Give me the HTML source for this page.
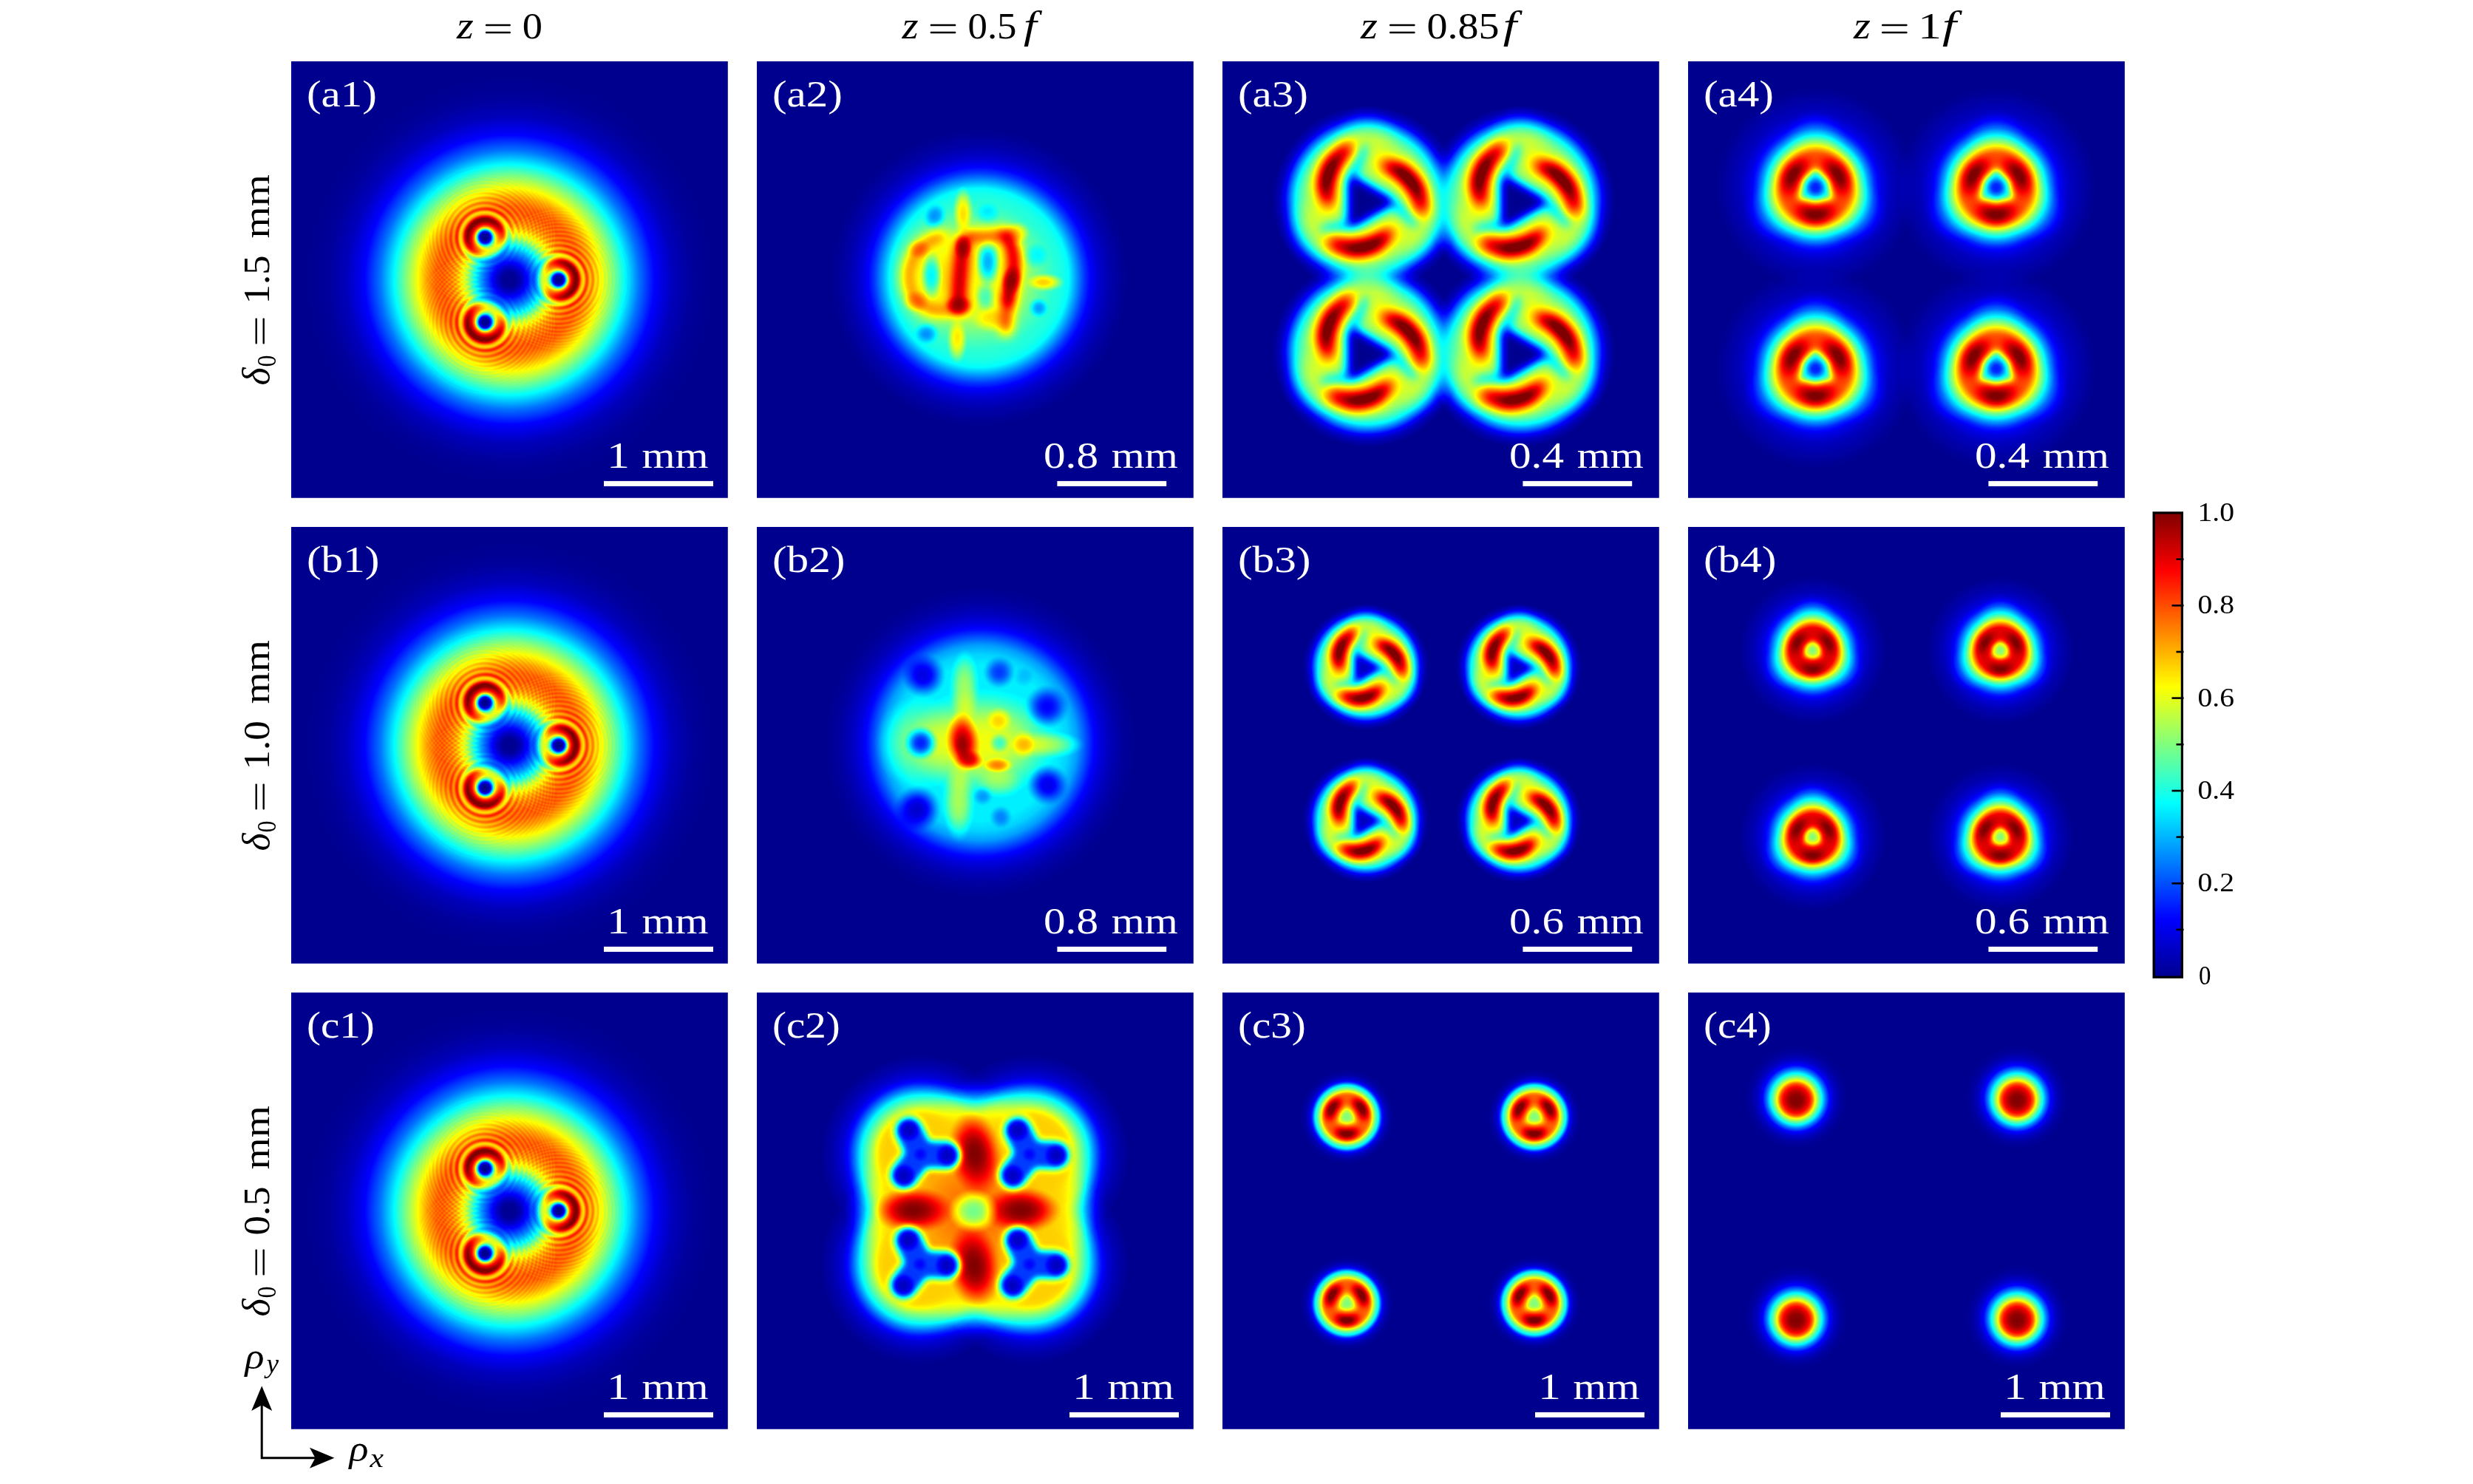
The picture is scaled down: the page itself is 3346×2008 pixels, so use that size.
<!DOCTYPE html><html><head><meta charset="utf-8"><style>html,body{margin:0;padding:0;background:#fff}svg{display:block}text{font-family:"Liberation Serif",serif}</style></head><body>
<svg width="3346" height="2008" viewBox="0 0 3346 2008">
<defs><filter id="jet" filterUnits="userSpaceOnUse" x="0" y="0" width="591" height="591" color-interpolation-filters="sRGB">
<feComponentTransfer>
<feFuncR type="table" tableValues="0 0 0 0 0.5 1 1 1 0.5"/>
<feFuncG type="table" tableValues="0 0 0.5 1 1 1 0.5 0 0"/>
<feFuncB type="table" tableValues="0.56 1 1 1 0.5 0 0 0 0"/>
</feComponentTransfer></filter>
<filter id="P2" filterUnits="userSpaceOnUse" x="-40" y="-40" width="680" height="680" color-interpolation-filters="sRGB"><feGaussianBlur stdDeviation="2"/></filter>
<filter id="U2" filterUnits="userSpaceOnUse" x="-170" y="-170" width="340" height="340" color-interpolation-filters="sRGB"><feGaussianBlur stdDeviation="2"/></filter>
<filter id="P3" filterUnits="userSpaceOnUse" x="-40" y="-40" width="680" height="680" color-interpolation-filters="sRGB"><feGaussianBlur stdDeviation="3"/></filter>
<filter id="U3" filterUnits="userSpaceOnUse" x="-170" y="-170" width="340" height="340" color-interpolation-filters="sRGB"><feGaussianBlur stdDeviation="3"/></filter>
<filter id="P4" filterUnits="userSpaceOnUse" x="-40" y="-40" width="680" height="680" color-interpolation-filters="sRGB"><feGaussianBlur stdDeviation="4"/></filter>
<filter id="U4" filterUnits="userSpaceOnUse" x="-170" y="-170" width="340" height="340" color-interpolation-filters="sRGB"><feGaussianBlur stdDeviation="4"/></filter>
<filter id="P5" filterUnits="userSpaceOnUse" x="-40" y="-40" width="680" height="680" color-interpolation-filters="sRGB"><feGaussianBlur stdDeviation="5"/></filter>
<filter id="U5" filterUnits="userSpaceOnUse" x="-170" y="-170" width="340" height="340" color-interpolation-filters="sRGB"><feGaussianBlur stdDeviation="5"/></filter>
<filter id="P6" filterUnits="userSpaceOnUse" x="-40" y="-40" width="680" height="680" color-interpolation-filters="sRGB"><feGaussianBlur stdDeviation="6"/></filter>
<filter id="U6" filterUnits="userSpaceOnUse" x="-170" y="-170" width="340" height="340" color-interpolation-filters="sRGB"><feGaussianBlur stdDeviation="6"/></filter>
<filter id="P7" filterUnits="userSpaceOnUse" x="-40" y="-40" width="680" height="680" color-interpolation-filters="sRGB"><feGaussianBlur stdDeviation="7"/></filter>
<filter id="U7" filterUnits="userSpaceOnUse" x="-170" y="-170" width="340" height="340" color-interpolation-filters="sRGB"><feGaussianBlur stdDeviation="7"/></filter>
<filter id="P8" filterUnits="userSpaceOnUse" x="-40" y="-40" width="680" height="680" color-interpolation-filters="sRGB"><feGaussianBlur stdDeviation="8"/></filter>
<filter id="U8" filterUnits="userSpaceOnUse" x="-170" y="-170" width="340" height="340" color-interpolation-filters="sRGB"><feGaussianBlur stdDeviation="8"/></filter>
<filter id="P10" filterUnits="userSpaceOnUse" x="-40" y="-40" width="680" height="680" color-interpolation-filters="sRGB"><feGaussianBlur stdDeviation="10"/></filter>
<filter id="U10" filterUnits="userSpaceOnUse" x="-170" y="-170" width="340" height="340" color-interpolation-filters="sRGB"><feGaussianBlur stdDeviation="10"/></filter>
<filter id="P12" filterUnits="userSpaceOnUse" x="-40" y="-40" width="680" height="680" color-interpolation-filters="sRGB"><feGaussianBlur stdDeviation="12"/></filter>
<filter id="U12" filterUnits="userSpaceOnUse" x="-170" y="-170" width="340" height="340" color-interpolation-filters="sRGB"><feGaussianBlur stdDeviation="12"/></filter>
<filter id="P14" filterUnits="userSpaceOnUse" x="-40" y="-40" width="680" height="680" color-interpolation-filters="sRGB"><feGaussianBlur stdDeviation="14"/></filter>
<filter id="U14" filterUnits="userSpaceOnUse" x="-170" y="-170" width="340" height="340" color-interpolation-filters="sRGB"><feGaussianBlur stdDeviation="14"/></filter>
<filter id="P16" filterUnits="userSpaceOnUse" x="-40" y="-40" width="680" height="680" color-interpolation-filters="sRGB"><feGaussianBlur stdDeviation="16"/></filter>
<filter id="U16" filterUnits="userSpaceOnUse" x="-170" y="-170" width="340" height="340" color-interpolation-filters="sRGB"><feGaussianBlur stdDeviation="16"/></filter>
<filter id="P20" filterUnits="userSpaceOnUse" x="-40" y="-40" width="680" height="680" color-interpolation-filters="sRGB"><feGaussianBlur stdDeviation="20"/></filter>
<filter id="U20" filterUnits="userSpaceOnUse" x="-170" y="-170" width="340" height="340" color-interpolation-filters="sRGB"><feGaussianBlur stdDeviation="20"/></filter>
<filter id="G4" filterUnits="userSpaceOnUse" x="-170" y="-170" width="340" height="340" color-interpolation-filters="sRGB"><feGaussianBlur stdDeviation="4"/><feComponentTransfer><feFuncA type="linear" slope="2"/></feComponentTransfer></filter>
<filter id="PG4" filterUnits="userSpaceOnUse" x="-40" y="-40" width="680" height="680" color-interpolation-filters="sRGB"><feGaussianBlur stdDeviation="4"/><feComponentTransfer><feFuncA type="linear" slope="2"/></feComponentTransfer></filter>
<filter id="G5" filterUnits="userSpaceOnUse" x="-170" y="-170" width="340" height="340" color-interpolation-filters="sRGB"><feGaussianBlur stdDeviation="5"/><feComponentTransfer><feFuncA type="linear" slope="2"/></feComponentTransfer></filter>
<filter id="PG5" filterUnits="userSpaceOnUse" x="-40" y="-40" width="680" height="680" color-interpolation-filters="sRGB"><feGaussianBlur stdDeviation="5"/><feComponentTransfer><feFuncA type="linear" slope="2"/></feComponentTransfer></filter>
<filter id="G6" filterUnits="userSpaceOnUse" x="-170" y="-170" width="340" height="340" color-interpolation-filters="sRGB"><feGaussianBlur stdDeviation="6"/><feComponentTransfer><feFuncA type="linear" slope="2"/></feComponentTransfer></filter>
<filter id="PG6" filterUnits="userSpaceOnUse" x="-40" y="-40" width="680" height="680" color-interpolation-filters="sRGB"><feGaussianBlur stdDeviation="6"/><feComponentTransfer><feFuncA type="linear" slope="2"/></feComponentTransfer></filter>
<filter id="G7" filterUnits="userSpaceOnUse" x="-170" y="-170" width="340" height="340" color-interpolation-filters="sRGB"><feGaussianBlur stdDeviation="7"/><feComponentTransfer><feFuncA type="linear" slope="2"/></feComponentTransfer></filter>
<filter id="PG7" filterUnits="userSpaceOnUse" x="-40" y="-40" width="680" height="680" color-interpolation-filters="sRGB"><feGaussianBlur stdDeviation="7"/><feComponentTransfer><feFuncA type="linear" slope="2"/></feComponentTransfer></filter>
<filter id="G8" filterUnits="userSpaceOnUse" x="-170" y="-170" width="340" height="340" color-interpolation-filters="sRGB"><feGaussianBlur stdDeviation="8"/><feComponentTransfer><feFuncA type="linear" slope="2"/></feComponentTransfer></filter>
<filter id="PG8" filterUnits="userSpaceOnUse" x="-40" y="-40" width="680" height="680" color-interpolation-filters="sRGB"><feGaussianBlur stdDeviation="8"/><feComponentTransfer><feFuncA type="linear" slope="2"/></feComponentTransfer></filter>
<filter id="G9" filterUnits="userSpaceOnUse" x="-170" y="-170" width="340" height="340" color-interpolation-filters="sRGB"><feGaussianBlur stdDeviation="9"/><feComponentTransfer><feFuncA type="linear" slope="2"/></feComponentTransfer></filter>
<filter id="PG9" filterUnits="userSpaceOnUse" x="-40" y="-40" width="680" height="680" color-interpolation-filters="sRGB"><feGaussianBlur stdDeviation="9"/><feComponentTransfer><feFuncA type="linear" slope="2"/></feComponentTransfer></filter>
<filter id="G10" filterUnits="userSpaceOnUse" x="-170" y="-170" width="340" height="340" color-interpolation-filters="sRGB"><feGaussianBlur stdDeviation="10"/><feComponentTransfer><feFuncA type="linear" slope="2"/></feComponentTransfer></filter>
<filter id="PG10" filterUnits="userSpaceOnUse" x="-40" y="-40" width="680" height="680" color-interpolation-filters="sRGB"><feGaussianBlur stdDeviation="10"/><feComponentTransfer><feFuncA type="linear" slope="2"/></feComponentTransfer></filter>
<filter id="G12" filterUnits="userSpaceOnUse" x="-170" y="-170" width="340" height="340" color-interpolation-filters="sRGB"><feGaussianBlur stdDeviation="12"/><feComponentTransfer><feFuncA type="linear" slope="2"/></feComponentTransfer></filter>
<filter id="PG12" filterUnits="userSpaceOnUse" x="-40" y="-40" width="680" height="680" color-interpolation-filters="sRGB"><feGaussianBlur stdDeviation="12"/><feComponentTransfer><feFuncA type="linear" slope="2"/></feComponentTransfer></filter>
<radialGradient id="gb" ><stop offset="0.0000" stop-color="#fff" stop-opacity="1.000"/><stop offset="0.1800" stop-color="#fff" stop-opacity="0.970"/><stop offset="0.3500" stop-color="#fff" stop-opacity="0.860"/><stop offset="0.5000" stop-color="#fff" stop-opacity="0.680"/><stop offset="0.6500" stop-color="#fff" stop-opacity="0.450"/><stop offset="0.8000" stop-color="#fff" stop-opacity="0.220"/><stop offset="0.9000" stop-color="#fff" stop-opacity="0.090"/><stop offset="1.0000" stop-color="#fff" stop-opacity="0.000"/></radialGradient>
<radialGradient id="gk" ><stop offset="0.0000" stop-color="#000" stop-opacity="1.000"/><stop offset="0.1800" stop-color="#000" stop-opacity="0.970"/><stop offset="0.3500" stop-color="#000" stop-opacity="0.860"/><stop offset="0.5000" stop-color="#000" stop-opacity="0.680"/><stop offset="0.6500" stop-color="#000" stop-opacity="0.450"/><stop offset="0.8000" stop-color="#000" stop-opacity="0.220"/><stop offset="0.9000" stop-color="#000" stop-opacity="0.090"/><stop offset="1.0000" stop-color="#000" stop-opacity="0.000"/></radialGradient>
<radialGradient id="env" ><stop offset="0.0000" stop-color="#000000"/><stop offset="0.0357" stop-color="#030303"/><stop offset="0.0464" stop-color="#080808"/><stop offset="0.0643" stop-color="#121212"/><stop offset="0.0843" stop-color="#202020"/><stop offset="0.1071" stop-color="#303030"/><stop offset="0.1314" stop-color="#424242"/><stop offset="0.1500" stop-color="#525252"/><stop offset="0.1679" stop-color="#626262"/><stop offset="0.1875" stop-color="#787878"/><stop offset="0.2071" stop-color="#8f8f8f"/><stop offset="0.2346" stop-color="#a4a4a4"/><stop offset="0.2571" stop-color="#b4b4b4"/><stop offset="0.2821" stop-color="#bfbfbf"/><stop offset="0.3214" stop-color="#c8c8c8"/><stop offset="0.3571" stop-color="#c6c6c6"/><stop offset="0.4000" stop-color="#b6b6b6"/><stop offset="0.4429" stop-color="#9f9f9f"/><stop offset="0.5000" stop-color="#808080"/><stop offset="0.5571" stop-color="#606060"/><stop offset="0.6250" stop-color="#3d3d3d"/><stop offset="0.7000" stop-color="#202020"/><stop offset="0.7857" stop-color="#0d0d0d"/><stop offset="0.8750" stop-color="#040404"/><stop offset="0.9821" stop-color="#000000"/></radialGradient>
<radialGradient id="vm" ><stop offset="0.0000" stop-color="#000000"/><stop offset="0.0033" stop-color="#000000"/><stop offset="0.0067" stop-color="#000000"/><stop offset="0.0100" stop-color="#000000"/><stop offset="0.0133" stop-color="#000000"/><stop offset="0.0167" stop-color="#000000"/><stop offset="0.0200" stop-color="#000000"/><stop offset="0.0233" stop-color="#000000"/><stop offset="0.0267" stop-color="#010101"/><stop offset="0.0300" stop-color="#010101"/><stop offset="0.0333" stop-color="#020202"/><stop offset="0.0367" stop-color="#030303"/><stop offset="0.0400" stop-color="#040404"/><stop offset="0.0433" stop-color="#050505"/><stop offset="0.0467" stop-color="#070707"/><stop offset="0.0500" stop-color="#0a0a0a"/><stop offset="0.0533" stop-color="#0c0c0c"/><stop offset="0.0567" stop-color="#101010"/><stop offset="0.0600" stop-color="#131313"/><stop offset="0.0633" stop-color="#181818"/><stop offset="0.0667" stop-color="#1d1d1d"/><stop offset="0.0700" stop-color="#232323"/><stop offset="0.0733" stop-color="#292929"/><stop offset="0.0767" stop-color="#313131"/><stop offset="0.0800" stop-color="#393939"/><stop offset="0.0833" stop-color="#414141"/><stop offset="0.0867" stop-color="#4b4b4b"/><stop offset="0.0900" stop-color="#545454"/><stop offset="0.0933" stop-color="#5f5f5f"/><stop offset="0.0967" stop-color="#6a6a6a"/><stop offset="0.1000" stop-color="#757575"/><stop offset="0.1033" stop-color="#808080"/><stop offset="0.1067" stop-color="#8c8c8c"/><stop offset="0.1100" stop-color="#979797"/><stop offset="0.1133" stop-color="#a2a2a2"/><stop offset="0.1167" stop-color="#adadad"/><stop offset="0.1200" stop-color="#b8b8b8"/><stop offset="0.1233" stop-color="#c1c1c1"/><stop offset="0.1267" stop-color="#cacaca"/><stop offset="0.1300" stop-color="#d3d3d3"/><stop offset="0.1333" stop-color="#dadada"/><stop offset="0.1367" stop-color="#e2e2e2"/><stop offset="0.1400" stop-color="#e8e8e8"/><stop offset="0.1433" stop-color="#efefef"/><stop offset="0.1467" stop-color="#f4f4f4"/><stop offset="0.1500" stop-color="#fafafa"/><stop offset="0.1533" stop-color="#ffffff"/><stop offset="0.1567" stop-color="#ffffff"/><stop offset="0.1600" stop-color="#ffffff"/><stop offset="0.1633" stop-color="#ffffff"/><stop offset="0.1667" stop-color="#ffffff"/><stop offset="0.1700" stop-color="#ffffff"/><stop offset="0.1733" stop-color="#ffffff"/><stop offset="0.1767" stop-color="#ffffff"/><stop offset="0.1800" stop-color="#ffffff"/><stop offset="0.1833" stop-color="#ffffff"/><stop offset="0.1867" stop-color="#ffffff"/><stop offset="0.1900" stop-color="#ffffff"/><stop offset="0.1933" stop-color="#ffffff"/><stop offset="0.1967" stop-color="#ffffff"/><stop offset="0.2000" stop-color="#ffffff"/><stop offset="0.2033" stop-color="#ffffff"/><stop offset="0.2067" stop-color="#ffffff"/><stop offset="0.2100" stop-color="#ffffff"/><stop offset="0.2133" stop-color="#ffffff"/><stop offset="0.2167" stop-color="#ffffff"/><stop offset="0.2200" stop-color="#ffffff"/><stop offset="0.2233" stop-color="#ffffff"/><stop offset="0.2267" stop-color="#ffffff"/><stop offset="0.2300" stop-color="#ffffff"/><stop offset="0.2333" stop-color="#ffffff"/><stop offset="0.2367" stop-color="#ffffff"/><stop offset="0.2400" stop-color="#ffffff"/><stop offset="0.2433" stop-color="#ffffff"/><stop offset="0.2467" stop-color="#ffffff"/><stop offset="0.2500" stop-color="#ffffff"/><stop offset="0.2533" stop-color="#ffffff"/><stop offset="0.2567" stop-color="#ffffff"/><stop offset="0.2600" stop-color="#ffffff"/><stop offset="0.2633" stop-color="#ffffff"/><stop offset="0.2667" stop-color="#ffffff"/><stop offset="0.2700" stop-color="#ffffff"/><stop offset="0.2733" stop-color="#ffffff"/><stop offset="0.2767" stop-color="#ffffff"/><stop offset="0.2800" stop-color="#ffffff"/><stop offset="0.2833" stop-color="#ffffff"/><stop offset="0.2867" stop-color="#ffffff"/><stop offset="0.2900" stop-color="#ffffff"/><stop offset="0.2933" stop-color="#ffffff"/><stop offset="0.2967" stop-color="#fdfdfd"/><stop offset="0.3000" stop-color="#f7f7f7"/><stop offset="0.3033" stop-color="#f1f1f1"/><stop offset="0.3067" stop-color="#ececec"/><stop offset="0.3100" stop-color="#e7e7e7"/><stop offset="0.3133" stop-color="#e3e3e3"/><stop offset="0.3167" stop-color="#dfdfdf"/><stop offset="0.3200" stop-color="#dcdcdc"/><stop offset="0.3233" stop-color="#dadada"/><stop offset="0.3267" stop-color="#d8d8d8"/><stop offset="0.3300" stop-color="#d7d7d7"/><stop offset="0.3333" stop-color="#d6d6d6"/><stop offset="0.3367" stop-color="#d7d7d7"/><stop offset="0.3400" stop-color="#d8d8d8"/><stop offset="0.3433" stop-color="#dcdcdc"/><stop offset="0.3467" stop-color="#e0e0e0"/><stop offset="0.3500" stop-color="#e5e5e5"/><stop offset="0.3533" stop-color="#ebebeb"/><stop offset="0.3567" stop-color="#f2f2f2"/><stop offset="0.3600" stop-color="#f8f8f8"/><stop offset="0.3633" stop-color="#ffffff"/><stop offset="0.3667" stop-color="#ffffff"/><stop offset="0.3700" stop-color="#ffffff"/><stop offset="0.3733" stop-color="#ffffff"/><stop offset="0.3767" stop-color="#ffffff"/><stop offset="0.3800" stop-color="#ffffff"/><stop offset="0.3833" stop-color="#ffffff"/><stop offset="0.3867" stop-color="#ffffff"/><stop offset="0.3900" stop-color="#ffffff"/><stop offset="0.3933" stop-color="#ffffff"/><stop offset="0.3967" stop-color="#ffffff"/><stop offset="0.4000" stop-color="#ffffff"/><stop offset="0.4033" stop-color="#ffffff"/><stop offset="0.4067" stop-color="#ffffff"/><stop offset="0.4100" stop-color="#fbfbfb"/><stop offset="0.4133" stop-color="#f7f7f7"/><stop offset="0.4167" stop-color="#f4f4f4"/><stop offset="0.4200" stop-color="#f1f1f1"/><stop offset="0.4233" stop-color="#f0f0f0"/><stop offset="0.4267" stop-color="#f0f0f0"/><stop offset="0.4300" stop-color="#f0f0f0"/><stop offset="0.4333" stop-color="#f2f2f2"/><stop offset="0.4367" stop-color="#f5f5f5"/><stop offset="0.4400" stop-color="#f8f8f8"/><stop offset="0.4433" stop-color="#fcfcfc"/><stop offset="0.4467" stop-color="#ffffff"/><stop offset="0.4500" stop-color="#ffffff"/><stop offset="0.4533" stop-color="#ffffff"/><stop offset="0.4567" stop-color="#ffffff"/><stop offset="0.4600" stop-color="#ffffff"/><stop offset="0.4633" stop-color="#ffffff"/><stop offset="0.4667" stop-color="#ffffff"/><stop offset="0.4700" stop-color="#ffffff"/><stop offset="0.4733" stop-color="#ffffff"/><stop offset="0.4767" stop-color="#ffffff"/><stop offset="0.4800" stop-color="#ffffff"/><stop offset="0.4833" stop-color="#ffffff"/><stop offset="0.4867" stop-color="#fbfbfb"/><stop offset="0.4900" stop-color="#f8f8f8"/><stop offset="0.4933" stop-color="#f6f6f6"/><stop offset="0.4967" stop-color="#f4f4f4"/><stop offset="0.5000" stop-color="#f4f4f4"/><stop offset="0.5033" stop-color="#f4f4f4"/><stop offset="0.5067" stop-color="#f6f6f6"/><stop offset="0.5100" stop-color="#f8f8f8"/><stop offset="0.5133" stop-color="#fbfbfb"/><stop offset="0.5167" stop-color="#fefefe"/><stop offset="0.5200" stop-color="#ffffff"/><stop offset="0.5233" stop-color="#ffffff"/><stop offset="0.5267" stop-color="#ffffff"/><stop offset="0.5300" stop-color="#ffffff"/><stop offset="0.5333" stop-color="#ffffff"/><stop offset="0.5367" stop-color="#ffffff"/><stop offset="0.5400" stop-color="#ffffff"/><stop offset="0.5433" stop-color="#ffffff"/><stop offset="0.5467" stop-color="#ffffff"/><stop offset="0.5500" stop-color="#ffffff"/><stop offset="0.5533" stop-color="#fcfcfc"/><stop offset="0.5567" stop-color="#fafafa"/><stop offset="0.5600" stop-color="#f7f7f7"/><stop offset="0.5633" stop-color="#f6f6f6"/><stop offset="0.5667" stop-color="#f6f6f6"/><stop offset="0.5700" stop-color="#f7f7f7"/><stop offset="0.5733" stop-color="#f8f8f8"/><stop offset="0.5767" stop-color="#fbfbfb"/><stop offset="0.5800" stop-color="#fefefe"/><stop offset="0.5833" stop-color="#ffffff"/><stop offset="0.5867" stop-color="#ffffff"/><stop offset="0.5900" stop-color="#ffffff"/><stop offset="0.5933" stop-color="#ffffff"/><stop offset="0.5967" stop-color="#ffffff"/><stop offset="0.6000" stop-color="#ffffff"/><stop offset="0.6033" stop-color="#ffffff"/><stop offset="0.6067" stop-color="#ffffff"/><stop offset="0.6100" stop-color="#ffffff"/><stop offset="0.6133" stop-color="#fdfdfd"/><stop offset="0.6167" stop-color="#fafafa"/><stop offset="0.6200" stop-color="#f8f8f8"/><stop offset="0.6233" stop-color="#f7f7f7"/><stop offset="0.6267" stop-color="#f7f7f7"/><stop offset="0.6300" stop-color="#f9f9f9"/><stop offset="0.6333" stop-color="#fbfbfb"/><stop offset="0.6367" stop-color="#fdfdfd"/><stop offset="0.6400" stop-color="#ffffff"/><stop offset="0.6433" stop-color="#ffffff"/><stop offset="0.6467" stop-color="#ffffff"/><stop offset="0.6500" stop-color="#ffffff"/><stop offset="0.6533" stop-color="#ffffff"/><stop offset="0.6567" stop-color="#ffffff"/><stop offset="0.6600" stop-color="#ffffff"/><stop offset="0.6633" stop-color="#ffffff"/><stop offset="0.6667" stop-color="#fefefe"/><stop offset="0.6700" stop-color="#fbfbfb"/><stop offset="0.6733" stop-color="#f9f9f9"/><stop offset="0.6767" stop-color="#f8f8f8"/><stop offset="0.6800" stop-color="#f8f8f8"/><stop offset="0.6833" stop-color="#f9f9f9"/><stop offset="0.6867" stop-color="#fbfbfb"/><stop offset="0.6900" stop-color="#fefefe"/><stop offset="0.6933" stop-color="#ffffff"/><stop offset="0.6967" stop-color="#ffffff"/><stop offset="0.7000" stop-color="#ffffff"/><stop offset="0.7033" stop-color="#ffffff"/><stop offset="0.7067" stop-color="#ffffff"/><stop offset="0.7100" stop-color="#ffffff"/><stop offset="0.7133" stop-color="#ffffff"/><stop offset="0.7167" stop-color="#ffffff"/><stop offset="0.7200" stop-color="#fcfcfc"/><stop offset="0.7233" stop-color="#fafafa"/><stop offset="0.7267" stop-color="#f9f9f9"/><stop offset="0.7300" stop-color="#f9f9f9"/><stop offset="0.7333" stop-color="#fafafa"/><stop offset="0.7367" stop-color="#fcfcfc"/><stop offset="0.7400" stop-color="#ffffff"/><stop offset="0.7433" stop-color="#ffffff"/><stop offset="0.7467" stop-color="#ffffff"/><stop offset="0.7500" stop-color="#ffffff"/><stop offset="0.7533" stop-color="#ffffff"/><stop offset="0.7567" stop-color="#ffffff"/><stop offset="0.7600" stop-color="#ffffff"/><stop offset="0.7633" stop-color="#ffffff"/><stop offset="0.7667" stop-color="#fdfdfd"/><stop offset="0.7700" stop-color="#fbfbfb"/><stop offset="0.7733" stop-color="#fafafa"/><stop offset="0.7767" stop-color="#fafafa"/><stop offset="0.7800" stop-color="#fbfbfb"/><stop offset="0.7833" stop-color="#fdfdfd"/><stop offset="0.7867" stop-color="#ffffff"/><stop offset="0.7900" stop-color="#ffffff"/><stop offset="0.7933" stop-color="#ffffff"/><stop offset="0.7967" stop-color="#ffffff"/><stop offset="0.8000" stop-color="#ffffff"/><stop offset="0.8033" stop-color="#ffffff"/><stop offset="0.8067" stop-color="#ffffff"/><stop offset="0.8100" stop-color="#fefefe"/><stop offset="0.8133" stop-color="#fcfcfc"/><stop offset="0.8167" stop-color="#fbfbfb"/><stop offset="0.8200" stop-color="#fbfbfb"/><stop offset="0.8233" stop-color="#fcfcfc"/><stop offset="0.8267" stop-color="#fdfdfd"/><stop offset="0.8300" stop-color="#ffffff"/><stop offset="0.8333" stop-color="#ffffff"/><stop offset="0.8367" stop-color="#ffffff"/><stop offset="0.8400" stop-color="#ffffff"/><stop offset="0.8433" stop-color="#ffffff"/><stop offset="0.8467" stop-color="#ffffff"/><stop offset="0.8500" stop-color="#ffffff"/><stop offset="0.8533" stop-color="#fdfdfd"/><stop offset="0.8567" stop-color="#fcfcfc"/><stop offset="0.8600" stop-color="#fbfbfb"/><stop offset="0.8633" stop-color="#fcfcfc"/><stop offset="0.8667" stop-color="#fdfdfd"/><stop offset="0.8700" stop-color="#ffffff"/><stop offset="0.8733" stop-color="#ffffff"/><stop offset="0.8767" stop-color="#ffffff"/><stop offset="0.8800" stop-color="#ffffff"/><stop offset="0.8833" stop-color="#ffffff"/><stop offset="0.8867" stop-color="#ffffff"/><stop offset="0.8900" stop-color="#ffffff"/><stop offset="0.8933" stop-color="#fefefe"/><stop offset="0.8967" stop-color="#fcfcfc"/><stop offset="0.9000" stop-color="#fcfcfc"/><stop offset="0.9033" stop-color="#fcfcfc"/><stop offset="0.9067" stop-color="#fdfdfd"/><stop offset="0.9100" stop-color="#ffffff"/><stop offset="0.9133" stop-color="#ffffff"/><stop offset="0.9167" stop-color="#ffffff"/><stop offset="0.9200" stop-color="#ffffff"/><stop offset="0.9233" stop-color="#ffffff"/><stop offset="0.9267" stop-color="#ffffff"/><stop offset="0.9300" stop-color="#ffffff"/><stop offset="0.9333" stop-color="#fdfdfd"/><stop offset="0.9367" stop-color="#fcfcfc"/><stop offset="0.9400" stop-color="#fcfcfc"/><stop offset="0.9433" stop-color="#fdfdfd"/><stop offset="0.9467" stop-color="#ffffff"/><stop offset="0.9500" stop-color="#ffffff"/><stop offset="0.9533" stop-color="#ffffff"/><stop offset="0.9567" stop-color="#ffffff"/><stop offset="0.9600" stop-color="#ffffff"/><stop offset="0.9633" stop-color="#ffffff"/><stop offset="0.9667" stop-color="#ffffff"/><stop offset="0.9700" stop-color="#ffffff"/><stop offset="0.9733" stop-color="#ffffff"/><stop offset="0.9767" stop-color="#ffffff"/><stop offset="0.9800" stop-color="#ffffff"/><stop offset="0.9833" stop-color="#ffffff"/><stop offset="0.9867" stop-color="#ffffff"/><stop offset="0.9900" stop-color="#ffffff"/><stop offset="0.9933" stop-color="#ffffff"/><stop offset="0.9967" stop-color="#ffffff"/><stop offset="1.0000" stop-color="#ffffff"/></radialGradient>
<radialGradient id="vd" ><stop offset="0.0000" stop-color="#000000"/><stop offset="0.0033" stop-color="#000000"/><stop offset="0.0067" stop-color="#000000"/><stop offset="0.0100" stop-color="#000000"/><stop offset="0.0133" stop-color="#000000"/><stop offset="0.0167" stop-color="#000000"/><stop offset="0.0200" stop-color="#000000"/><stop offset="0.0233" stop-color="#000000"/><stop offset="0.0267" stop-color="#000000"/><stop offset="0.0300" stop-color="#000000"/><stop offset="0.0333" stop-color="#000000"/><stop offset="0.0367" stop-color="#000000"/><stop offset="0.0400" stop-color="#000000"/><stop offset="0.0433" stop-color="#000000"/><stop offset="0.0467" stop-color="#000000"/><stop offset="0.0500" stop-color="#000000"/><stop offset="0.0533" stop-color="#000000"/><stop offset="0.0567" stop-color="#000000"/><stop offset="0.0600" stop-color="#000000"/><stop offset="0.0633" stop-color="#000000"/><stop offset="0.0667" stop-color="#000000"/><stop offset="0.0700" stop-color="#000000"/><stop offset="0.0733" stop-color="#000000"/><stop offset="0.0767" stop-color="#000000"/><stop offset="0.0800" stop-color="#000000"/><stop offset="0.0833" stop-color="#000000"/><stop offset="0.0867" stop-color="#000000"/><stop offset="0.0900" stop-color="#000000"/><stop offset="0.0933" stop-color="#000000"/><stop offset="0.0967" stop-color="#000000"/><stop offset="0.1000" stop-color="#000000"/><stop offset="0.1033" stop-color="#000000"/><stop offset="0.1067" stop-color="#000000"/><stop offset="0.1100" stop-color="#000000"/><stop offset="0.1133" stop-color="#000000"/><stop offset="0.1167" stop-color="#000000"/><stop offset="0.1200" stop-color="#000000"/><stop offset="0.1233" stop-color="#000000"/><stop offset="0.1267" stop-color="#000000"/><stop offset="0.1300" stop-color="#000000"/><stop offset="0.1333" stop-color="#000000"/><stop offset="0.1367" stop-color="#000000"/><stop offset="0.1400" stop-color="#000000"/><stop offset="0.1433" stop-color="#000000"/><stop offset="0.1467" stop-color="#000000"/><stop offset="0.1500" stop-color="#000000"/><stop offset="0.1533" stop-color="#000000"/><stop offset="0.1567" stop-color="#050505"/><stop offset="0.1600" stop-color="#090909"/><stop offset="0.1633" stop-color="#0d0d0d"/><stop offset="0.1667" stop-color="#111111"/><stop offset="0.1700" stop-color="#151515"/><stop offset="0.1733" stop-color="#181818"/><stop offset="0.1767" stop-color="#1c1c1c"/><stop offset="0.1800" stop-color="#1f1f1f"/><stop offset="0.1833" stop-color="#222222"/><stop offset="0.1867" stop-color="#252525"/><stop offset="0.1900" stop-color="#282828"/><stop offset="0.1933" stop-color="#2a2a2a"/><stop offset="0.1967" stop-color="#2d2d2d"/><stop offset="0.2000" stop-color="#2f2f2f"/><stop offset="0.2033" stop-color="#313131"/><stop offset="0.2067" stop-color="#333333"/><stop offset="0.2100" stop-color="#353535"/><stop offset="0.2133" stop-color="#373737"/><stop offset="0.2167" stop-color="#383838"/><stop offset="0.2200" stop-color="#393939"/><stop offset="0.2233" stop-color="#3a3a3a"/><stop offset="0.2267" stop-color="#3b3b3b"/><stop offset="0.2300" stop-color="#3c3c3c"/><stop offset="0.2333" stop-color="#3c3c3c"/><stop offset="0.2367" stop-color="#3c3c3c"/><stop offset="0.2400" stop-color="#3c3c3c"/><stop offset="0.2433" stop-color="#3c3c3c"/><stop offset="0.2467" stop-color="#3b3b3b"/><stop offset="0.2500" stop-color="#393939"/><stop offset="0.2533" stop-color="#373737"/><stop offset="0.2567" stop-color="#353535"/><stop offset="0.2600" stop-color="#333333"/><stop offset="0.2633" stop-color="#303030"/><stop offset="0.2667" stop-color="#2c2c2c"/><stop offset="0.2700" stop-color="#282828"/><stop offset="0.2733" stop-color="#242424"/><stop offset="0.2767" stop-color="#202020"/><stop offset="0.2800" stop-color="#1b1b1b"/><stop offset="0.2833" stop-color="#151515"/><stop offset="0.2867" stop-color="#101010"/><stop offset="0.2900" stop-color="#0a0a0a"/><stop offset="0.2933" stop-color="#040404"/><stop offset="0.2967" stop-color="#000000"/><stop offset="0.3000" stop-color="#000000"/><stop offset="0.3033" stop-color="#000000"/><stop offset="0.3067" stop-color="#000000"/><stop offset="0.3100" stop-color="#000000"/><stop offset="0.3133" stop-color="#000000"/><stop offset="0.3167" stop-color="#000000"/><stop offset="0.3200" stop-color="#000000"/><stop offset="0.3233" stop-color="#000000"/><stop offset="0.3267" stop-color="#000000"/><stop offset="0.3300" stop-color="#000000"/><stop offset="0.3333" stop-color="#000000"/><stop offset="0.3367" stop-color="#000000"/><stop offset="0.3400" stop-color="#000000"/><stop offset="0.3433" stop-color="#000000"/><stop offset="0.3467" stop-color="#000000"/><stop offset="0.3500" stop-color="#000000"/><stop offset="0.3533" stop-color="#000000"/><stop offset="0.3567" stop-color="#000000"/><stop offset="0.3600" stop-color="#000000"/><stop offset="0.3633" stop-color="#000000"/><stop offset="0.3667" stop-color="#060606"/><stop offset="0.3700" stop-color="#0b0b0b"/><stop offset="0.3733" stop-color="#0f0f0f"/><stop offset="0.3767" stop-color="#121212"/><stop offset="0.3800" stop-color="#131313"/><stop offset="0.3833" stop-color="#141414"/><stop offset="0.3867" stop-color="#131313"/><stop offset="0.3900" stop-color="#121212"/><stop offset="0.3933" stop-color="#101010"/><stop offset="0.3967" stop-color="#0d0d0d"/><stop offset="0.4000" stop-color="#090909"/><stop offset="0.4033" stop-color="#050505"/><stop offset="0.4067" stop-color="#000000"/><stop offset="0.4100" stop-color="#000000"/><stop offset="0.4133" stop-color="#000000"/><stop offset="0.4167" stop-color="#000000"/><stop offset="0.4200" stop-color="#000000"/><stop offset="0.4233" stop-color="#000000"/><stop offset="0.4267" stop-color="#000000"/><stop offset="0.4300" stop-color="#000000"/><stop offset="0.4333" stop-color="#000000"/><stop offset="0.4367" stop-color="#000000"/><stop offset="0.4400" stop-color="#000000"/><stop offset="0.4433" stop-color="#000000"/><stop offset="0.4467" stop-color="#010101"/><stop offset="0.4500" stop-color="#050505"/><stop offset="0.4533" stop-color="#080808"/><stop offset="0.4567" stop-color="#0b0b0b"/><stop offset="0.4600" stop-color="#0d0d0d"/><stop offset="0.4633" stop-color="#0d0d0d"/><stop offset="0.4667" stop-color="#0d0d0d"/><stop offset="0.4700" stop-color="#0c0c0c"/><stop offset="0.4733" stop-color="#0a0a0a"/><stop offset="0.4767" stop-color="#070707"/><stop offset="0.4800" stop-color="#030303"/><stop offset="0.4833" stop-color="#000000"/><stop offset="0.4867" stop-color="#000000"/><stop offset="0.4900" stop-color="#000000"/><stop offset="0.4933" stop-color="#000000"/><stop offset="0.4967" stop-color="#000000"/><stop offset="0.5000" stop-color="#000000"/><stop offset="0.5033" stop-color="#000000"/><stop offset="0.5067" stop-color="#000000"/><stop offset="0.5100" stop-color="#000000"/><stop offset="0.5133" stop-color="#000000"/><stop offset="0.5167" stop-color="#000000"/><stop offset="0.5200" stop-color="#020202"/><stop offset="0.5233" stop-color="#050505"/><stop offset="0.5267" stop-color="#080808"/><stop offset="0.5300" stop-color="#090909"/><stop offset="0.5333" stop-color="#0a0a0a"/><stop offset="0.5367" stop-color="#090909"/><stop offset="0.5400" stop-color="#080808"/><stop offset="0.5433" stop-color="#060606"/><stop offset="0.5467" stop-color="#040404"/><stop offset="0.5500" stop-color="#000000"/><stop offset="0.5533" stop-color="#000000"/><stop offset="0.5567" stop-color="#000000"/><stop offset="0.5600" stop-color="#000000"/><stop offset="0.5633" stop-color="#000000"/><stop offset="0.5667" stop-color="#000000"/><stop offset="0.5700" stop-color="#000000"/><stop offset="0.5733" stop-color="#000000"/><stop offset="0.5767" stop-color="#000000"/><stop offset="0.5800" stop-color="#000000"/><stop offset="0.5833" stop-color="#020202"/><stop offset="0.5867" stop-color="#050505"/><stop offset="0.5900" stop-color="#070707"/><stop offset="0.5933" stop-color="#080808"/><stop offset="0.5967" stop-color="#080808"/><stop offset="0.6000" stop-color="#080808"/><stop offset="0.6033" stop-color="#060606"/><stop offset="0.6067" stop-color="#040404"/><stop offset="0.6100" stop-color="#010101"/><stop offset="0.6133" stop-color="#000000"/><stop offset="0.6167" stop-color="#000000"/><stop offset="0.6200" stop-color="#000000"/><stop offset="0.6233" stop-color="#000000"/><stop offset="0.6267" stop-color="#000000"/><stop offset="0.6300" stop-color="#000000"/><stop offset="0.6333" stop-color="#000000"/><stop offset="0.6367" stop-color="#000000"/><stop offset="0.6400" stop-color="#010101"/><stop offset="0.6433" stop-color="#040404"/><stop offset="0.6467" stop-color="#060606"/><stop offset="0.6500" stop-color="#070707"/><stop offset="0.6533" stop-color="#070707"/><stop offset="0.6567" stop-color="#060606"/><stop offset="0.6600" stop-color="#040404"/><stop offset="0.6633" stop-color="#020202"/><stop offset="0.6667" stop-color="#000000"/><stop offset="0.6700" stop-color="#000000"/><stop offset="0.6733" stop-color="#000000"/><stop offset="0.6767" stop-color="#000000"/><stop offset="0.6800" stop-color="#000000"/><stop offset="0.6833" stop-color="#000000"/><stop offset="0.6867" stop-color="#000000"/><stop offset="0.6900" stop-color="#000000"/><stop offset="0.6933" stop-color="#020202"/><stop offset="0.6967" stop-color="#040404"/><stop offset="0.7000" stop-color="#060606"/><stop offset="0.7033" stop-color="#060606"/><stop offset="0.7067" stop-color="#060606"/><stop offset="0.7100" stop-color="#040404"/><stop offset="0.7133" stop-color="#020202"/><stop offset="0.7167" stop-color="#000000"/><stop offset="0.7200" stop-color="#000000"/><stop offset="0.7233" stop-color="#000000"/><stop offset="0.7267" stop-color="#000000"/><stop offset="0.7300" stop-color="#000000"/><stop offset="0.7333" stop-color="#000000"/><stop offset="0.7367" stop-color="#000000"/><stop offset="0.7400" stop-color="#000000"/><stop offset="0.7433" stop-color="#020202"/><stop offset="0.7467" stop-color="#040404"/><stop offset="0.7500" stop-color="#050505"/><stop offset="0.7533" stop-color="#050505"/><stop offset="0.7567" stop-color="#040404"/><stop offset="0.7600" stop-color="#030303"/><stop offset="0.7633" stop-color="#000000"/><stop offset="0.7667" stop-color="#000000"/><stop offset="0.7700" stop-color="#000000"/><stop offset="0.7733" stop-color="#000000"/><stop offset="0.7767" stop-color="#000000"/><stop offset="0.7800" stop-color="#000000"/><stop offset="0.7833" stop-color="#000000"/><stop offset="0.7867" stop-color="#000000"/><stop offset="0.7900" stop-color="#030303"/><stop offset="0.7933" stop-color="#040404"/><stop offset="0.7967" stop-color="#050505"/><stop offset="0.8000" stop-color="#040404"/><stop offset="0.8033" stop-color="#030303"/><stop offset="0.8067" stop-color="#010101"/><stop offset="0.8100" stop-color="#000000"/><stop offset="0.8133" stop-color="#000000"/><stop offset="0.8167" stop-color="#000000"/><stop offset="0.8200" stop-color="#000000"/><stop offset="0.8233" stop-color="#000000"/><stop offset="0.8267" stop-color="#000000"/><stop offset="0.8300" stop-color="#000000"/><stop offset="0.8333" stop-color="#020202"/><stop offset="0.8367" stop-color="#040404"/><stop offset="0.8400" stop-color="#040404"/><stop offset="0.8433" stop-color="#030303"/><stop offset="0.8467" stop-color="#020202"/><stop offset="0.8500" stop-color="#000000"/><stop offset="0.8533" stop-color="#000000"/><stop offset="0.8567" stop-color="#000000"/><stop offset="0.8600" stop-color="#000000"/><stop offset="0.8633" stop-color="#000000"/><stop offset="0.8667" stop-color="#000000"/><stop offset="0.8700" stop-color="#000000"/><stop offset="0.8733" stop-color="#010101"/><stop offset="0.8767" stop-color="#030303"/><stop offset="0.8800" stop-color="#030303"/><stop offset="0.8833" stop-color="#030303"/><stop offset="0.8867" stop-color="#020202"/><stop offset="0.8900" stop-color="#000000"/><stop offset="0.8933" stop-color="#000000"/><stop offset="0.8967" stop-color="#000000"/><stop offset="0.9000" stop-color="#000000"/><stop offset="0.9033" stop-color="#000000"/><stop offset="0.9067" stop-color="#000000"/><stop offset="0.9100" stop-color="#000000"/><stop offset="0.9133" stop-color="#020202"/><stop offset="0.9167" stop-color="#030303"/><stop offset="0.9200" stop-color="#030303"/><stop offset="0.9233" stop-color="#020202"/><stop offset="0.9267" stop-color="#010101"/><stop offset="0.9300" stop-color="#000000"/><stop offset="0.9333" stop-color="#000000"/><stop offset="0.9367" stop-color="#000000"/><stop offset="0.9400" stop-color="#000000"/><stop offset="0.9433" stop-color="#000000"/><stop offset="0.9467" stop-color="#000000"/><stop offset="0.9500" stop-color="#010101"/><stop offset="0.9533" stop-color="#020202"/><stop offset="0.9567" stop-color="#030303"/><stop offset="0.9600" stop-color="#030303"/><stop offset="0.9633" stop-color="#020202"/><stop offset="0.9667" stop-color="#020202"/><stop offset="0.9700" stop-color="#020202"/><stop offset="0.9733" stop-color="#020202"/><stop offset="0.9767" stop-color="#010101"/><stop offset="0.9800" stop-color="#010101"/><stop offset="0.9833" stop-color="#010101"/><stop offset="0.9867" stop-color="#010101"/><stop offset="0.9900" stop-color="#000000"/><stop offset="0.9933" stop-color="#000000"/><stop offset="0.9967" stop-color="#000000"/><stop offset="1.0000" stop-color="#000000"/></radialGradient>
<radialGradient id="vr" ><stop offset="0.0000" stop-color="#fff" stop-opacity="0.000"/><stop offset="0.2917" stop-color="#fff" stop-opacity="0.000"/><stop offset="0.3889" stop-color="#fff" stop-opacity="0.140"/><stop offset="0.5000" stop-color="#fff" stop-opacity="0.260"/><stop offset="0.6389" stop-color="#fff" stop-opacity="0.200"/><stop offset="0.8056" stop-color="#fff" stop-opacity="0.060"/><stop offset="1.0000" stop-color="#fff" stop-opacity="0.000"/></radialGradient>
<g id="p1"><rect width="591" height="591" fill="#000"/><circle cx="295.5" cy="295.5" r="280" fill="url(#env)"/><circle cx="362.0" cy="295.5" r="100" fill="url(#vm)" style="mix-blend-mode:multiply"/><circle cx="362.0" cy="295.5" r="100" fill="url(#vd)" style="mix-blend-mode:color-dodge"/><circle cx="362.0" cy="295.5" r="36" fill="url(#vr)"/><circle cx="262.2" cy="237.9" r="100" fill="url(#vm)" style="mix-blend-mode:multiply"/><circle cx="262.2" cy="237.9" r="100" fill="url(#vd)" style="mix-blend-mode:color-dodge"/><circle cx="262.2" cy="237.9" r="36" fill="url(#vr)"/><circle cx="262.2" cy="353.1" r="100" fill="url(#vm)" style="mix-blend-mode:multiply"/><circle cx="262.2" cy="353.1" r="100" fill="url(#vd)" style="mix-blend-mode:color-dodge"/><circle cx="262.2" cy="353.1" r="36" fill="url(#vr)"/></g>
<radialGradient id="u3b" ><stop offset="0.0000" stop-color="#878787" stop-opacity="1.000"/><stop offset="0.5385" stop-color="#878787" stop-opacity="1.000"/><stop offset="0.6308" stop-color="#878787" stop-opacity="0.962"/><stop offset="0.6923" stop-color="#878787" stop-opacity="0.849"/><stop offset="0.7462" stop-color="#878787" stop-opacity="0.708"/><stop offset="0.8000" stop-color="#878787" stop-opacity="0.472"/><stop offset="0.8538" stop-color="#878787" stop-opacity="0.236"/><stop offset="0.9077" stop-color="#878787" stop-opacity="0.094"/><stop offset="0.9846" stop-color="#878787" stop-opacity="0.000"/></radialGradient>
<g id="u3"><circle r="130" fill="url(#u3b)"/><ellipse cx="0.0" cy="-80.0" rx="48.4" ry="48.4" fill="url(#gb)" opacity="0.13"/><ellipse cx="-69.3" cy="40.0" rx="48.4" ry="48.4" fill="url(#gb)" opacity="0.13"/><ellipse cx="69.3" cy="40.0" rx="48.4" ry="48.4" fill="url(#gb)" opacity="0.13"/><g filter="url(#U7)" opacity="1.00"><polygon points="26.0,2.0 -19.0,-24.0 -19.0,28.0" fill="#000" stroke="#000" stroke-width="16.0" stroke-linejoin="round"/><path d="M32.0 2.0 Q50.0 14.3 62.9 30.7" stroke="#000" stroke-opacity="0.5" stroke-width="11" stroke-linecap="round" fill="none"/><path d="M-22.0 -29.2 Q-12.6 -50.5 -4.9 -69.8" stroke="#000" stroke-opacity="0.5" stroke-width="11" stroke-linecap="round" fill="none"/><path d="M-22.0 33.2 Q-37.4 36.1 -58.0 39.1" stroke="#000" stroke-opacity="0.5" stroke-width="11" stroke-linecap="round" fill="none"/></g><g filter="url(#G10)"><path d="M74.3 13.7 L71.6 -2.6 L65.7 -17.0 L57.0 -29.1 L46.4 -38.3 L34.7 -44.4 L22.6 -47.3" stroke="#fff" stroke-width="10.0" stroke-linecap="round" stroke-linejoin="round" fill="none"/><path d="M68.3 -11.8 L63.2 -21.1 L57.0 -29.1 L49.9 -35.7 L42.1 -40.9" stroke="#fff" stroke-width="14.5" stroke-linecap="round" stroke-linejoin="round" fill="none"/><path d="M-25.3 -71.2 L-38.0 -60.8 L-47.6 -48.4 L-53.7 -34.9 L-56.3 -21.1 L-55.8 -7.9 L-52.3 4.1" stroke="#fff" stroke-width="10.0" stroke-linecap="round" stroke-linejoin="round" fill="none"/><path d="M-44.4 -53.2 L-49.8 -44.2 L-53.7 -34.9 L-55.9 -25.4 L-56.5 -16.0" stroke="#fff" stroke-width="14.5" stroke-linecap="round" stroke-linejoin="round" fill="none"/><path d="M-49.0 57.5 L-33.6 63.3 L-18.1 65.4 L-3.3 63.9 L9.9 59.3 L21.1 52.2 L29.7 43.3" stroke="#fff" stroke-width="10.0" stroke-linecap="round" stroke-linejoin="round" fill="none"/><path d="M-23.9 65.0 L-13.4 65.3 L-3.3 63.9 L6.0 61.1 L14.4 56.9" stroke="#fff" stroke-width="14.5" stroke-linecap="round" stroke-linejoin="round" fill="none"/></g></g>
<g id="u3s"><circle r="130" fill="url(#u3b)"/><ellipse cx="0.0" cy="-80.0" rx="48.4" ry="48.4" fill="url(#gb)" opacity="0.13"/><ellipse cx="-69.3" cy="40.0" rx="48.4" ry="48.4" fill="url(#gb)" opacity="0.13"/><ellipse cx="69.3" cy="40.0" rx="48.4" ry="48.4" fill="url(#gb)" opacity="0.13"/><g filter="url(#U8)" opacity="0.90"><polygon points="23.0,2.0 -17.5,-21.4 -17.5,25.4" fill="#000" stroke="#000" stroke-width="14.0" stroke-linejoin="round"/><path d="M32.0 2.0 Q50.0 14.3 62.9 30.7" stroke="#000" stroke-opacity="0.5" stroke-width="11" stroke-linecap="round" fill="none"/><path d="M-22.0 -29.2 Q-12.6 -50.5 -4.9 -69.8" stroke="#000" stroke-opacity="0.5" stroke-width="11" stroke-linecap="round" fill="none"/><path d="M-22.0 33.2 Q-37.4 36.1 -58.0 39.1" stroke="#000" stroke-opacity="0.5" stroke-width="11" stroke-linecap="round" fill="none"/></g><g filter="url(#G12)"><path d="M74.3 13.7 L71.6 -2.6 L65.7 -17.0 L57.0 -29.1 L46.4 -38.3 L34.7 -44.4 L22.6 -47.3" stroke="#fff" stroke-width="11.5" stroke-linecap="round" stroke-linejoin="round" fill="none"/><path d="M68.3 -11.8 L63.2 -21.1 L57.0 -29.1 L49.9 -35.7 L42.1 -40.9" stroke="#fff" stroke-width="17.0" stroke-linecap="round" stroke-linejoin="round" fill="none"/><path d="M-25.3 -71.2 L-38.0 -60.8 L-47.6 -48.4 L-53.7 -34.9 L-56.3 -21.1 L-55.8 -7.9 L-52.3 4.1" stroke="#fff" stroke-width="11.5" stroke-linecap="round" stroke-linejoin="round" fill="none"/><path d="M-44.4 -53.2 L-49.8 -44.2 L-53.7 -34.9 L-55.9 -25.4 L-56.5 -16.0" stroke="#fff" stroke-width="17.0" stroke-linecap="round" stroke-linejoin="round" fill="none"/><path d="M-49.0 57.5 L-33.6 63.3 L-18.1 65.4 L-3.3 63.9 L9.9 59.3 L21.1 52.2 L29.7 43.3" stroke="#fff" stroke-width="11.5" stroke-linecap="round" stroke-linejoin="round" fill="none"/><path d="M-23.9 65.0 L-13.4 65.3 L-3.3 63.9 L6.0 61.1 L14.4 56.9" stroke="#fff" stroke-width="17.0" stroke-linecap="round" stroke-linejoin="round" fill="none"/></g></g>
<radialGradient id="u4ag" ><stop offset="0.0000" stop-color="#fff" stop-opacity="0.150"/><stop offset="0.0370" stop-color="#fff" stop-opacity="0.170"/><stop offset="0.0667" stop-color="#fff" stop-opacity="0.250"/><stop offset="0.0889" stop-color="#fff" stop-opacity="0.330"/><stop offset="0.1111" stop-color="#fff" stop-opacity="0.420"/><stop offset="0.1333" stop-color="#fff" stop-opacity="0.530"/><stop offset="0.1556" stop-color="#fff" stop-opacity="0.640"/><stop offset="0.1778" stop-color="#fff" stop-opacity="0.720"/><stop offset="0.2000" stop-color="#fff" stop-opacity="0.765"/><stop offset="0.2296" stop-color="#fff" stop-opacity="0.785"/><stop offset="0.2741" stop-color="#fff" stop-opacity="0.790"/><stop offset="0.3185" stop-color="#fff" stop-opacity="0.780"/><stop offset="0.3481" stop-color="#fff" stop-opacity="0.755"/><stop offset="0.3778" stop-color="#fff" stop-opacity="0.690"/><stop offset="0.4074" stop-color="#fff" stop-opacity="0.610"/><stop offset="0.4444" stop-color="#fff" stop-opacity="0.500"/><stop offset="0.4889" stop-color="#fff" stop-opacity="0.390"/><stop offset="0.5333" stop-color="#fff" stop-opacity="0.280"/><stop offset="0.5926" stop-color="#fff" stop-opacity="0.165"/><stop offset="0.6519" stop-color="#fff" stop-opacity="0.100"/><stop offset="0.7407" stop-color="#fff" stop-opacity="0.055"/><stop offset="0.8519" stop-color="#fff" stop-opacity="0.030"/><stop offset="1.0000" stop-color="#fff" stop-opacity="0.000"/></radialGradient>
<g id="u4a"><circle r="135" cy="-1.0" fill="url(#u4ag)"/><ellipse cx="0.0" cy="-64.0" rx="43.5" ry="43.5" fill="url(#gb)" opacity="0.11"/><ellipse cx="-55.4" cy="32.0" rx="43.5" ry="43.5" fill="url(#gb)" opacity="0.11"/><ellipse cx="55.4" cy="32.0" rx="43.5" ry="43.5" fill="url(#gb)" opacity="0.11"/><g filter="url(#U4)"><circle cx="0.0" cy="-20.0" r="6.0" fill="#000" fill-opacity="0.32"/><circle cx="-17.3" cy="10.0" r="6.0" fill="#000" fill-opacity="0.32"/><circle cx="17.3" cy="10.0" r="6.0" fill="#000" fill-opacity="0.32"/></g><g filter="url(#G8)" opacity="1.00"><path d="M36.3 3.8 L35.7 -7.6 L31.6 -18.2 L24.4 -27.1 L14.8 -33.3" stroke="#fff" stroke-width="7.0" stroke-linecap="round" stroke-linejoin="round" fill="none"/><path d="M35.3 -9.4 L33.7 -13.9 L31.6 -18.2 L28.9 -22.3 L25.8 -25.9" stroke="#fff" stroke-width="11.9" stroke-linecap="round" stroke-linejoin="round" fill="none"/><path d="M-14.8 -33.3 L-24.4 -27.1 L-31.6 -18.2 L-35.7 -7.6 L-36.3 3.8" stroke="#fff" stroke-width="7.0" stroke-linecap="round" stroke-linejoin="round" fill="none"/><path d="M-25.8 -25.9 L-28.9 -22.3 L-31.6 -18.2 L-33.7 -13.9 L-35.3 -9.4" stroke="#fff" stroke-width="11.9" stroke-linecap="round" stroke-linejoin="round" fill="none"/><path d="M-21.5 29.5 L-11.3 34.7 L-0.0 36.5 L11.3 34.7 L21.5 29.5" stroke="#fff" stroke-width="7.0" stroke-linecap="round" stroke-linejoin="round" fill="none"/><path d="M-9.5 35.2 L-4.8 36.2 L-0.0 36.5 L4.8 36.2 L9.5 35.2" stroke="#fff" stroke-width="11.9" stroke-linecap="round" stroke-linejoin="round" fill="none"/></g></g>
<radialGradient id="u4bg" ><stop offset="0.0000" stop-color="#fff" stop-opacity="0.500"/><stop offset="0.0400" stop-color="#fff" stop-opacity="0.530"/><stop offset="0.0700" stop-color="#fff" stop-opacity="0.600"/><stop offset="0.0950" stop-color="#fff" stop-opacity="0.660"/><stop offset="0.1200" stop-color="#fff" stop-opacity="0.780"/><stop offset="0.1450" stop-color="#fff" stop-opacity="0.860"/><stop offset="0.1900" stop-color="#fff" stop-opacity="0.900"/><stop offset="0.2600" stop-color="#fff" stop-opacity="0.900"/><stop offset="0.3100" stop-color="#fff" stop-opacity="0.875"/><stop offset="0.3500" stop-color="#fff" stop-opacity="0.770"/><stop offset="0.3900" stop-color="#fff" stop-opacity="0.630"/><stop offset="0.4400" stop-color="#fff" stop-opacity="0.470"/><stop offset="0.4900" stop-color="#fff" stop-opacity="0.350"/><stop offset="0.5400" stop-color="#fff" stop-opacity="0.255"/><stop offset="0.6000" stop-color="#fff" stop-opacity="0.155"/><stop offset="0.6800" stop-color="#fff" stop-opacity="0.085"/><stop offset="0.8000" stop-color="#fff" stop-opacity="0.040"/><stop offset="1.0000" stop-color="#fff" stop-opacity="0.000"/></radialGradient>
<g id="u4b"><circle r="100" cy="-1.0" fill="url(#u4bg)"/><ellipse cx="0.0" cy="-45.0" rx="32.3" ry="32.3" fill="url(#gb)" opacity="0.11"/><ellipse cx="-39.0" cy="22.5" rx="32.3" ry="32.3" fill="url(#gb)" opacity="0.11"/><ellipse cx="39.0" cy="22.5" rx="32.3" ry="32.3" fill="url(#gb)" opacity="0.11"/><g filter="url(#U3)"><circle cx="0.0" cy="-11.0" r="3.0" fill="#000" fill-opacity="0.15"/><circle cx="-9.5" cy="5.5" r="3.0" fill="#000" fill-opacity="0.15"/><circle cx="9.5" cy="5.5" r="3.0" fill="#000" fill-opacity="0.15"/></g><g filter="url(#G5)" opacity="1.00"><path d="M24.5 0.9 L23.8 -5.9 L21.2 -12.2 L17.0 -17.6 L11.5 -21.6" stroke="#fff" stroke-width="4.0" stroke-linecap="round" stroke-linejoin="round" fill="none"/><path d="M23.5 -7.0 L22.5 -9.7 L21.2 -12.2 L19.6 -14.6 L17.8 -16.8" stroke="#fff" stroke-width="6.8" stroke-linecap="round" stroke-linejoin="round" fill="none"/><path d="M-11.5 -21.6 L-17.0 -17.6 L-21.2 -12.2 L-23.8 -5.9 L-24.5 0.9" stroke="#fff" stroke-width="4.0" stroke-linecap="round" stroke-linejoin="round" fill="none"/><path d="M-17.8 -16.8 L-19.6 -14.6 L-21.2 -12.2 L-22.5 -9.7 L-23.5 -7.0" stroke="#fff" stroke-width="6.8" stroke-linecap="round" stroke-linejoin="round" fill="none"/><path d="M-13.0 20.8 L-6.8 23.6 L-0.0 24.5 L6.8 23.6 L13.0 20.8" stroke="#fff" stroke-width="4.0" stroke-linecap="round" stroke-linejoin="round" fill="none"/><path d="M-5.7 23.8 L-2.9 24.3 L-0.0 24.5 L2.9 24.3 L5.7 23.8" stroke="#fff" stroke-width="6.8" stroke-linecap="round" stroke-linejoin="round" fill="none"/></g></g>
<radialGradient id="u3cg" ><stop offset="0.0000" stop-color="#fff" stop-opacity="0.500"/><stop offset="0.0625" stop-color="#fff" stop-opacity="0.520"/><stop offset="0.1094" stop-color="#fff" stop-opacity="0.580"/><stop offset="0.1484" stop-color="#fff" stop-opacity="0.650"/><stop offset="0.1875" stop-color="#fff" stop-opacity="0.735"/><stop offset="0.2344" stop-color="#fff" stop-opacity="0.775"/><stop offset="0.2969" stop-color="#fff" stop-opacity="0.785"/><stop offset="0.3906" stop-color="#fff" stop-opacity="0.785"/><stop offset="0.4531" stop-color="#fff" stop-opacity="0.775"/><stop offset="0.5000" stop-color="#fff" stop-opacity="0.720"/><stop offset="0.5469" stop-color="#fff" stop-opacity="0.600"/><stop offset="0.6094" stop-color="#fff" stop-opacity="0.470"/><stop offset="0.6719" stop-color="#fff" stop-opacity="0.360"/><stop offset="0.7344" stop-color="#fff" stop-opacity="0.160"/><stop offset="0.7969" stop-color="#fff" stop-opacity="0.070"/><stop offset="0.8906" stop-color="#fff" stop-opacity="0.020"/><stop offset="1.0000" stop-color="#fff" stop-opacity="0.000"/></radialGradient>
<g id="u3c"><circle r="64" cy="0.0" fill="url(#u3cg)"/><g filter="url(#U3)"><circle cx="0.0" cy="-11.0" r="3.5" fill="#000" fill-opacity="0.20"/><circle cx="-9.5" cy="5.5" r="3.5" fill="#000" fill-opacity="0.20"/><circle cx="9.5" cy="5.5" r="3.5" fill="#000" fill-opacity="0.20"/></g><g filter="url(#G5)" opacity="1.00"><path d="M23.5 1.2 L22.9 -5.5 L20.4 -11.7 L16.2 -17.0 L10.7 -20.9" stroke="#fff" stroke-width="4.5" stroke-linecap="round" stroke-linejoin="round" fill="none"/><path d="M22.6 -6.5 L21.6 -9.2 L20.4 -11.7 L18.8 -14.1 L16.9 -16.3" stroke="#fff" stroke-width="7.6" stroke-linecap="round" stroke-linejoin="round" fill="none"/><path d="M-10.7 -20.9 L-16.2 -17.0 L-20.4 -11.7 L-22.9 -5.5 L-23.5 1.2" stroke="#fff" stroke-width="4.5" stroke-linecap="round" stroke-linejoin="round" fill="none"/><path d="M-16.9 -16.3 L-18.8 -14.1 L-20.4 -11.7 L-21.6 -9.2 L-22.6 -6.5" stroke="#fff" stroke-width="7.6" stroke-linecap="round" stroke-linejoin="round" fill="none"/><path d="M-12.8 19.7 L-6.7 22.5 L-0.0 23.5 L6.7 22.5 L12.8 19.7" stroke="#fff" stroke-width="4.5" stroke-linecap="round" stroke-linejoin="round" fill="none"/><path d="M-5.6 22.8 L-2.8 23.3 L-0.0 23.5 L2.8 23.3 L5.6 22.8" stroke="#fff" stroke-width="7.6" stroke-linecap="round" stroke-linejoin="round" fill="none"/></g></g>
<radialGradient id="u4cg" cx="0.5" cy="0.5" r="0.5" fx="0.5" fy="0.532"><stop offset="0.0000" stop-color="#fff" stop-opacity="1.000"/><stop offset="0.1143" stop-color="#fff" stop-opacity="0.985"/><stop offset="0.1857" stop-color="#fff" stop-opacity="0.940"/><stop offset="0.2571" stop-color="#fff" stop-opacity="0.870"/><stop offset="0.3143" stop-color="#fff" stop-opacity="0.780"/><stop offset="0.3643" stop-color="#fff" stop-opacity="0.635"/><stop offset="0.4286" stop-color="#fff" stop-opacity="0.500"/><stop offset="0.4929" stop-color="#fff" stop-opacity="0.385"/><stop offset="0.5643" stop-color="#fff" stop-opacity="0.250"/><stop offset="0.6429" stop-color="#fff" stop-opacity="0.130"/><stop offset="0.7429" stop-color="#fff" stop-opacity="0.060"/><stop offset="0.8571" stop-color="#fff" stop-opacity="0.020"/><stop offset="1.0000" stop-color="#fff" stop-opacity="0.000"/></radialGradient>
<g id="u4c"><circle r="70" cy="-4.5" fill="url(#u4cg)"/></g>
<radialGradient id="c2d" ><stop offset="0.0000" stop-color="#ababab" stop-opacity="1.000"/><stop offset="0.3556" stop-color="#ababab" stop-opacity="1.000"/><stop offset="0.4000" stop-color="#ababab" stop-opacity="0.985"/><stop offset="0.4370" stop-color="#ababab" stop-opacity="0.933"/><stop offset="0.4889" stop-color="#ababab" stop-opacity="0.791"/><stop offset="0.5407" stop-color="#ababab" stop-opacity="0.672"/><stop offset="0.5926" stop-color="#ababab" stop-opacity="0.560"/><stop offset="0.6519" stop-color="#ababab" stop-opacity="0.381"/><stop offset="0.7111" stop-color="#ababab" stop-opacity="0.224"/><stop offset="0.7778" stop-color="#ababab" stop-opacity="0.119"/><stop offset="0.8741" stop-color="#ababab" stop-opacity="0.052"/><stop offset="1.0000" stop-color="#ababab" stop-opacity="0.000"/></radialGradient>
<radialGradient id="a2d" ><stop offset="0.0000" stop-color="#787878" stop-opacity="1.000"/><stop offset="0.2750" stop-color="#787878" stop-opacity="1.000"/><stop offset="0.4000" stop-color="#787878" stop-opacity="0.936"/><stop offset="0.5000" stop-color="#787878" stop-opacity="0.883"/><stop offset="0.5600" stop-color="#787878" stop-opacity="0.851"/><stop offset="0.6050" stop-color="#787878" stop-opacity="0.798"/><stop offset="0.6600" stop-color="#787878" stop-opacity="0.574"/><stop offset="0.7100" stop-color="#787878" stop-opacity="0.383"/><stop offset="0.7500" stop-color="#787878" stop-opacity="0.266"/><stop offset="0.8100" stop-color="#787878" stop-opacity="0.149"/><stop offset="0.8900" stop-color="#787878" stop-opacity="0.064"/><stop offset="1.0000" stop-color="#787878" stop-opacity="0.000"/></radialGradient>
<radialGradient id="b2d" ><stop offset="0.0000" stop-color="#5c5c5c" stop-opacity="1.000"/><stop offset="0.5000" stop-color="#5c5c5c" stop-opacity="1.000"/><stop offset="0.5714" stop-color="#5c5c5c" stop-opacity="0.917"/><stop offset="0.6286" stop-color="#5c5c5c" stop-opacity="0.778"/><stop offset="0.6762" stop-color="#5c5c5c" stop-opacity="0.583"/><stop offset="0.7238" stop-color="#5c5c5c" stop-opacity="0.389"/><stop offset="0.7714" stop-color="#5c5c5c" stop-opacity="0.250"/><stop offset="0.8333" stop-color="#5c5c5c" stop-opacity="0.139"/><stop offset="0.9048" stop-color="#5c5c5c" stop-opacity="0.056"/><stop offset="1.0000" stop-color="#5c5c5c" stop-opacity="0.000"/></radialGradient></defs>
<rect width="3346" height="2008" fill="#fff"/>
<svg x="394" y="83" width="590.8" height="590.8" overflow="hidden"><g filter="url(#jet)"><use href="#p1"/></g><text x="20.9" y="61.3" font-size="51.0" fill="#fff" text-anchor="start" textLength="95.0" lengthAdjust="spacingAndGlyphs" >(a1)</text><text x="427.0" y="550.0" font-size="50.0" fill="#fff" text-anchor="start" textLength="31.0" lengthAdjust="spacingAndGlyphs" >1</text><text x="474.5" y="550.0" font-size="50.0" fill="#fff" text-anchor="start" textLength="90.0" lengthAdjust="spacingAndGlyphs" >mm</text><rect x="423.0" y="567.9" width="148.0" height="7" fill="#fff"/></svg>
<svg x="1024" y="83" width="590.8" height="590.8" overflow="hidden"><g filter="url(#jet)"><rect width="591" height="591" fill="#000"/><circle cx="301" cy="293" r="200" fill="url(#a2d)"/><ellipse cx="292.0" cy="290.0" rx="112.9" ry="100.0" fill="url(#gb)" opacity="0.26"/><ellipse cx="230.0" cy="290.0" rx="54.8" ry="80.6" fill="url(#gb)" opacity="0.18"/><ellipse cx="279.0" cy="202.0" rx="14.5" ry="33.9" fill="url(#gb)" opacity="0.38"/><ellipse cx="271.0" cy="378.0" rx="14.5" ry="32.3" fill="url(#gb)" opacity="0.36"/><ellipse cx="390.0" cy="299.0" rx="27.4" ry="12.9" fill="url(#gb)" opacity="0.40"/><ellipse cx="318.0" cy="349.0" rx="29.0" ry="19.4" fill="url(#gb)" opacity="0.25"/><ellipse cx="352.0" cy="232.0" rx="19.4" ry="16.1" fill="url(#gb)" opacity="0.30"/><ellipse cx="236.7" cy="290.0" rx="16.1" ry="35.5" fill="url(#gk)" opacity="0.42"/><ellipse cx="312.5" cy="272.0" rx="17.7" ry="35.5" fill="url(#gk)" opacity="0.50"/><ellipse cx="309.0" cy="318.0" rx="14.5" ry="22.6" fill="url(#gk)" opacity="0.25"/><ellipse cx="241.0" cy="210.0" rx="16.1" ry="19.4" fill="url(#gk)" opacity="0.36" transform="rotate(25.0 241.0 210.0)"/><ellipse cx="381.0" cy="333.5" rx="14.5" ry="14.5" fill="url(#gk)" opacity="0.36"/><ellipse cx="230.0" cy="368.0" rx="17.7" ry="16.1" fill="url(#gk)" opacity="0.36"/><ellipse cx="312.0" cy="205.6" rx="19.4" ry="16.1" fill="url(#gk)" opacity="0.20"/><ellipse cx="377.0" cy="263.0" rx="19.4" ry="19.4" fill="url(#gk)" opacity="0.20"/><g filter="url(#PG8)"><path d="M251 237 Q214 244 205 285 Q203 322 232 335 L252 338" stroke="#fff" stroke-opacity="0.37" stroke-width="10" stroke-linecap="round" stroke-linejoin="round" fill="none"/><path d="M285 236 Q315 240 338 232" stroke="#fff" stroke-opacity="0.5" stroke-width="9" stroke-linecap="round" fill="none"/><path d="M279 246 L275 290 L272 334" stroke="#fff" stroke-opacity="0.54" stroke-width="17" stroke-linecap="round" stroke-linejoin="round" fill="none"/><path d="M262 334 L285 332" stroke="#fff" stroke-opacity="0.3" stroke-width="12" stroke-linecap="round" fill="none"/><path d="M338 236 Q353 262 345 296 Q341 315 339.500 325" stroke="#fff" stroke-opacity="0.62" stroke-width="13" stroke-linecap="round" fill="none"/><path d="M340 318 Q338 340 337 364" stroke="#fff" stroke-opacity="0.42" stroke-width="13" stroke-linecap="round" fill="none"/></g><ellipse cx="279.0" cy="252.0" rx="12.9" ry="19.4" fill="url(#gb)" opacity="0.80"/><ellipse cx="273.0" cy="330.0" rx="19.4" ry="14.5" fill="url(#gb)" opacity="0.60"/><ellipse cx="344.5" cy="297.0" rx="14.5" ry="24.2" fill="url(#gb)" opacity="0.90" transform="rotate(12.0 344.5 297.0)"/><ellipse cx="219.0" cy="254.0" rx="17.7" ry="14.5" fill="url(#gb)" opacity="0.28"/><ellipse cx="215.0" cy="325.0" rx="19.4" ry="16.1" fill="url(#gb)" opacity="0.28"/></g><text x="20.9" y="61.3" font-size="51.0" fill="#fff" text-anchor="start" textLength="95.0" lengthAdjust="spacingAndGlyphs" >(a2)</text><text x="388.0" y="550.0" font-size="50.0" fill="#fff" text-anchor="start" textLength="74.0" lengthAdjust="spacingAndGlyphs" >0.8</text><text x="479.8" y="550.0" font-size="50.0" fill="#fff" text-anchor="start" textLength="90.0" lengthAdjust="spacingAndGlyphs" >mm</text><rect x="406.4" y="567.9" width="147.8" height="7" fill="#fff"/></svg>
<svg x="1654" y="83" width="590.8" height="590.8" overflow="hidden"><g filter="url(#jet)"><rect width="591" height="591" fill="#000"/><g style="isolation:isolate"><use href="#u3" transform="translate(196.0,188.0) scale(1.000)" style="mix-blend-mode:lighten"/><use href="#u3" transform="translate(403.0,188.0) scale(1.000)" style="mix-blend-mode:lighten"/><use href="#u3" transform="translate(196.0,394.0) scale(1.000)" style="mix-blend-mode:lighten"/><use href="#u3" transform="translate(403.0,394.0) scale(1.000)" style="mix-blend-mode:lighten"/></g></g><text x="20.9" y="61.3" font-size="51.0" fill="#fff" text-anchor="start" textLength="95.0" lengthAdjust="spacingAndGlyphs" >(a3)</text><text x="388.0" y="550.0" font-size="50.0" fill="#fff" text-anchor="start" textLength="74.0" lengthAdjust="spacingAndGlyphs" >0.4</text><text x="479.8" y="550.0" font-size="50.0" fill="#fff" text-anchor="start" textLength="90.0" lengthAdjust="spacingAndGlyphs" >mm</text><rect x="406.4" y="567.9" width="147.8" height="7" fill="#fff"/></svg>
<svg x="2284" y="83" width="590.8" height="590.8" overflow="hidden"><g filter="url(#jet)"><rect width="591" height="591" fill="#000"/><g style="isolation:isolate"><use href="#u4a" transform="translate(172.5,171.7)" style="mix-blend-mode:screen"/><use href="#u4a" transform="translate(417.0,171.7)" style="mix-blend-mode:screen"/><use href="#u4a" transform="translate(172.5,417.0)" style="mix-blend-mode:screen"/><use href="#u4a" transform="translate(417.0,417.0)" style="mix-blend-mode:screen"/></g></g><text x="20.9" y="61.3" font-size="51.0" fill="#fff" text-anchor="start" textLength="95.0" lengthAdjust="spacingAndGlyphs" >(a4)</text><text x="388.0" y="550.0" font-size="50.0" fill="#fff" text-anchor="start" textLength="74.0" lengthAdjust="spacingAndGlyphs" >0.4</text><text x="479.8" y="550.0" font-size="50.0" fill="#fff" text-anchor="start" textLength="90.0" lengthAdjust="spacingAndGlyphs" >mm</text><rect x="406.4" y="567.9" width="147.8" height="7" fill="#fff"/></svg>
<svg x="394" y="713" width="590.8" height="590.8" overflow="hidden"><g filter="url(#jet)"><use href="#p1"/></g><text x="20.9" y="61.3" font-size="51.0" fill="#fff" text-anchor="start" textLength="98.5" lengthAdjust="spacingAndGlyphs" >(b1)</text><text x="427.0" y="550.0" font-size="50.0" fill="#fff" text-anchor="start" textLength="31.0" lengthAdjust="spacingAndGlyphs" >1</text><text x="474.5" y="550.0" font-size="50.0" fill="#fff" text-anchor="start" textLength="90.0" lengthAdjust="spacingAndGlyphs" >mm</text><rect x="423.0" y="567.9" width="148.0" height="7" fill="#fff"/></svg>
<svg x="1024" y="713" width="590.8" height="590.8" overflow="hidden"><g filter="url(#jet)"><rect width="591" height="591" fill="#000"/><circle cx="302" cy="292" r="210" fill="url(#b2d)"/><ellipse cx="305.0" cy="292.0" rx="103.2" ry="74.2" fill="url(#gb)" opacity="0.40"/><ellipse cx="281.0" cy="222.0" rx="21.0" ry="58.1" fill="url(#gb)" opacity="0.27"/><ellipse cx="273.0" cy="370.0" rx="22.6" ry="58.1" fill="url(#gb)" opacity="0.28"/><ellipse cx="390.0" cy="294.6" rx="54.8" ry="19.4" fill="url(#gb)" opacity="0.26"/><ellipse cx="222.0" cy="292.0" rx="64.5" ry="64.5" fill="url(#gb)" opacity="0.22"/><ellipse cx="330.0" cy="345.0" rx="32.3" ry="22.6" fill="url(#gb)" opacity="0.16"/><ellipse cx="225.6" cy="201.2" rx="30.6" ry="30.6" fill="url(#gk)" opacity="0.72"/><ellipse cx="328.0" cy="196.7" rx="22.6" ry="22.6" fill="url(#gk)" opacity="0.50"/><ellipse cx="392.4" cy="243.4" rx="30.6" ry="30.6" fill="url(#gk)" opacity="0.66"/><ellipse cx="222.3" cy="292.3" rx="24.2" ry="24.2" fill="url(#gk)" opacity="0.72"/><ellipse cx="393.5" cy="349.0" rx="29.0" ry="29.0" fill="url(#gk)" opacity="0.72"/><ellipse cx="217.8" cy="381.3" rx="32.3" ry="32.3" fill="url(#gk)" opacity="0.78"/><ellipse cx="330.0" cy="392.4" rx="16.1" ry="16.1" fill="url(#gk)" opacity="0.30"/><ellipse cx="305.7" cy="363.5" rx="14.5" ry="14.5" fill="url(#gk)" opacity="0.25"/><ellipse cx="328.0" cy="292.3" rx="14.5" ry="14.5" fill="url(#gk)" opacity="0.28"/><ellipse cx="361.0" cy="203.0" rx="14.5" ry="14.5" fill="url(#gk)" opacity="0.12"/><ellipse cx="328.0" cy="260.0" rx="19.4" ry="17.7" fill="url(#gb)" opacity="0.27"/><ellipse cx="361.0" cy="294.6" rx="17.7" ry="22.6" fill="url(#gb)" opacity="0.25"/><ellipse cx="326.0" cy="322.5" rx="22.6" ry="11.3" fill="url(#gb)" opacity="0.45"/><ellipse cx="279.0" cy="291.0" rx="24.2" ry="43.5" fill="url(#gb)" opacity="0.86" transform="rotate(-6.0 279.0 291.0)"/><ellipse cx="288.0" cy="315.0" rx="21.0" ry="14.5" fill="url(#gb)" opacity="0.70" transform="rotate(10.0 288.0 315.0)"/><ellipse cx="278.0" cy="297.0" rx="11.3" ry="19.4" fill="url(#gb)" opacity="0.60" transform="rotate(-8.0 278.0 297.0)"/></g><text x="20.9" y="61.3" font-size="51.0" fill="#fff" text-anchor="start" textLength="98.5" lengthAdjust="spacingAndGlyphs" >(b2)</text><text x="388.0" y="550.0" font-size="50.0" fill="#fff" text-anchor="start" textLength="74.0" lengthAdjust="spacingAndGlyphs" >0.8</text><text x="479.8" y="550.0" font-size="50.0" fill="#fff" text-anchor="start" textLength="90.0" lengthAdjust="spacingAndGlyphs" >mm</text><rect x="406.4" y="567.9" width="147.8" height="7" fill="#fff"/></svg>
<svg x="1654" y="713" width="590.8" height="590.8" overflow="hidden"><g filter="url(#jet)"><rect width="591" height="591" fill="#000"/><g style="isolation:isolate"><use href="#u3s" transform="translate(194.0,189.3) scale(0.665)" style="mix-blend-mode:lighten"/><use href="#u3s" transform="translate(401.0,189.3) scale(0.665)" style="mix-blend-mode:lighten"/><use href="#u3s" transform="translate(194.0,396.3) scale(0.665)" style="mix-blend-mode:lighten"/><use href="#u3s" transform="translate(401.0,396.3) scale(0.665)" style="mix-blend-mode:lighten"/></g></g><text x="20.9" y="61.3" font-size="51.0" fill="#fff" text-anchor="start" textLength="98.5" lengthAdjust="spacingAndGlyphs" >(b3)</text><text x="388.0" y="550.0" font-size="50.0" fill="#fff" text-anchor="start" textLength="74.0" lengthAdjust="spacingAndGlyphs" >0.6</text><text x="479.8" y="550.0" font-size="50.0" fill="#fff" text-anchor="start" textLength="90.0" lengthAdjust="spacingAndGlyphs" >mm</text><rect x="406.4" y="567.9" width="147.8" height="7" fill="#fff"/></svg>
<svg x="2284" y="713" width="590.8" height="590.8" overflow="hidden"><g filter="url(#jet)"><rect width="591" height="591" fill="#000"/><g style="isolation:isolate"><use href="#u4b" transform="translate(168.5,168.3)" style="mix-blend-mode:screen"/><use href="#u4b" transform="translate(422.5,168.3)" style="mix-blend-mode:screen"/><use href="#u4b" transform="translate(168.5,420.5)" style="mix-blend-mode:screen"/><use href="#u4b" transform="translate(422.5,420.5)" style="mix-blend-mode:screen"/></g></g><text x="20.9" y="61.3" font-size="51.0" fill="#fff" text-anchor="start" textLength="98.5" lengthAdjust="spacingAndGlyphs" >(b4)</text><text x="388.0" y="550.0" font-size="50.0" fill="#fff" text-anchor="start" textLength="74.0" lengthAdjust="spacingAndGlyphs" >0.6</text><text x="479.8" y="550.0" font-size="50.0" fill="#fff" text-anchor="start" textLength="90.0" lengthAdjust="spacingAndGlyphs" >mm</text><rect x="406.4" y="567.9" width="147.8" height="7" fill="#fff"/></svg>
<svg x="394" y="1343" width="590.8" height="590.8" overflow="hidden"><g filter="url(#jet)"><use href="#p1"/></g><text x="20.9" y="61.3" font-size="51.0" fill="#fff" text-anchor="start" textLength="92.0" lengthAdjust="spacingAndGlyphs" >(c1)</text><text x="427.0" y="550.0" font-size="50.0" fill="#fff" text-anchor="start" textLength="31.0" lengthAdjust="spacingAndGlyphs" >1</text><text x="474.5" y="550.0" font-size="50.0" fill="#fff" text-anchor="start" textLength="90.0" lengthAdjust="spacingAndGlyphs" >mm</text><rect x="423.0" y="567.9" width="148.0" height="7" fill="#fff"/></svg>
<svg x="1024" y="1343" width="590.8" height="590.8" overflow="hidden"><g filter="url(#jet)"><rect width="591" height="591" fill="#000"/><g style="isolation:isolate"><g filter="url(#P16)"><rect x="209.9" y="208.3" width="170" height="170" fill="#bdbdbd"/></g><g filter="url(#P16)"><rect x="244.9" y="151.3" width="100" height="284" fill="#a8a8a8"/><rect x="152.9" y="243.3" width="284" height="100" fill="#a8a8a8"/></g><circle cx="221.4" cy="219.0" r="135" fill="url(#c2d)" style="mix-blend-mode:lighten"/><circle cx="368.8" cy="219.0" r="135" fill="url(#c2d)" style="mix-blend-mode:lighten"/><circle cx="220.8" cy="367.6" r="135" fill="url(#c2d)" style="mix-blend-mode:lighten"/><circle cx="368.8" cy="367.6" r="135" fill="url(#c2d)" style="mix-blend-mode:lighten"/></g><ellipse cx="295.0" cy="218.0" rx="37.1" ry="59.7" fill="url(#gb)" opacity="1.00" transform="rotate(-8.0 295.0 218.0)"/><ellipse cx="294.0" cy="370.0" rx="37.1" ry="59.7" fill="url(#gb)" opacity="1.00" transform="rotate(-8.0 294.0 370.0)"/><ellipse cx="212.0" cy="294.5" rx="56.5" ry="32.3" fill="url(#gb)" opacity="1.00"/><ellipse cx="358.0" cy="294.5" rx="54.8" ry="32.3" fill="url(#gb)" opacity="1.00"/><ellipse cx="293.3" cy="295.7" rx="100.0" ry="100.0" fill="url(#gb)" opacity="0.30"/><ellipse cx="293.3" cy="295.7" rx="35.5" ry="30.6" fill="url(#gk)" opacity="0.36"/><g filter="url(#P5)"><path d="M221.4 219.0 L256.9 220.2 M221.4 219.0 L205.8 187.1 M221.4 219.0 L199.5 247.0 " stroke="#000" stroke-width="37" stroke-linecap="round" stroke-opacity="0.74" fill="none"/><path d="M368.8 219.0 L404.3 220.2 M368.8 219.0 L353.2 187.1 M368.8 219.0 L346.9 247.0 " stroke="#000" stroke-width="37" stroke-linecap="round" stroke-opacity="0.74" fill="none"/><path d="M220.8 367.6 L256.3 368.8 M220.8 367.6 L205.2 335.7 M220.8 367.6 L198.9 395.6 " stroke="#000" stroke-width="37" stroke-linecap="round" stroke-opacity="0.74" fill="none"/><path d="M368.8 367.6 L404.3 368.8 M368.8 367.6 L353.2 335.7 M368.8 367.6 L346.9 395.6 " stroke="#000" stroke-width="37" stroke-linecap="round" stroke-opacity="0.74" fill="none"/></g><ellipse cx="257.9" cy="220.3" rx="17.7" ry="17.7" fill="url(#gk)" opacity="0.68"/><ellipse cx="205.4" cy="186.2" rx="17.7" ry="17.7" fill="url(#gk)" opacity="0.68"/><ellipse cx="198.9" cy="247.8" rx="17.7" ry="17.7" fill="url(#gk)" opacity="0.68"/><ellipse cx="221.4" cy="219.0" rx="11.3" ry="11.3" fill="url(#gk)" opacity="0.30"/><ellipse cx="405.3" cy="220.3" rx="17.7" ry="17.7" fill="url(#gk)" opacity="0.68"/><ellipse cx="352.8" cy="186.2" rx="17.7" ry="17.7" fill="url(#gk)" opacity="0.68"/><ellipse cx="346.3" cy="247.8" rx="17.7" ry="17.7" fill="url(#gk)" opacity="0.68"/><ellipse cx="368.8" cy="219.0" rx="11.3" ry="11.3" fill="url(#gk)" opacity="0.30"/><ellipse cx="257.3" cy="368.9" rx="17.7" ry="17.7" fill="url(#gk)" opacity="0.68"/><ellipse cx="204.8" cy="334.8" rx="17.7" ry="17.7" fill="url(#gk)" opacity="0.68"/><ellipse cx="198.3" cy="396.4" rx="17.7" ry="17.7" fill="url(#gk)" opacity="0.68"/><ellipse cx="220.8" cy="367.6" rx="11.3" ry="11.3" fill="url(#gk)" opacity="0.30"/><ellipse cx="405.3" cy="368.9" rx="17.7" ry="17.7" fill="url(#gk)" opacity="0.68"/><ellipse cx="352.8" cy="334.8" rx="17.7" ry="17.7" fill="url(#gk)" opacity="0.68"/><ellipse cx="346.3" cy="396.4" rx="17.7" ry="17.7" fill="url(#gk)" opacity="0.68"/><ellipse cx="368.8" cy="367.6" rx="11.3" ry="11.3" fill="url(#gk)" opacity="0.30"/></g><text x="20.9" y="61.3" font-size="51.0" fill="#fff" text-anchor="start" textLength="92.0" lengthAdjust="spacingAndGlyphs" >(c2)</text><text x="427.0" y="550.0" font-size="50.0" fill="#fff" text-anchor="start" textLength="31.0" lengthAdjust="spacingAndGlyphs" >1</text><text x="474.5" y="550.0" font-size="50.0" fill="#fff" text-anchor="start" textLength="90.0" lengthAdjust="spacingAndGlyphs" >mm</text><rect x="423.0" y="567.9" width="148.0" height="7" fill="#fff"/></svg>
<svg x="1654" y="1343" width="590.8" height="590.8" overflow="hidden"><g filter="url(#jet)"><rect width="591" height="591" fill="#000"/><g style="isolation:isolate"><use href="#u3c" transform="translate(168.3,168.2)" style="mix-blend-mode:screen"/><use href="#u3c" transform="translate(422.0,168.2)" style="mix-blend-mode:screen"/><use href="#u3c" transform="translate(168.3,420.5)" style="mix-blend-mode:screen"/><use href="#u3c" transform="translate(422.0,420.5)" style="mix-blend-mode:screen"/></g></g><text x="20.9" y="61.3" font-size="51.0" fill="#fff" text-anchor="start" textLength="92.0" lengthAdjust="spacingAndGlyphs" >(c3)</text><text x="427.0" y="550.0" font-size="50.0" fill="#fff" text-anchor="start" textLength="31.0" lengthAdjust="spacingAndGlyphs" >1</text><text x="474.5" y="550.0" font-size="50.0" fill="#fff" text-anchor="start" textLength="90.0" lengthAdjust="spacingAndGlyphs" >mm</text><rect x="423.0" y="567.9" width="148.0" height="7" fill="#fff"/></svg>
<svg x="2284" y="1343" width="590.8" height="590.8" overflow="hidden"><g filter="url(#jet)"><rect width="591" height="591" fill="#000"/><g style="isolation:isolate"><use href="#u4c" transform="translate(146.2,146.4)" style="mix-blend-mode:screen"/><use href="#u4c" transform="translate(445.2,146.4)" style="mix-blend-mode:screen"/><use href="#u4c" transform="translate(146.2,443.9)" style="mix-blend-mode:screen"/><use href="#u4c" transform="translate(445.2,443.9)" style="mix-blend-mode:screen"/></g></g><text x="20.9" y="61.3" font-size="51.0" fill="#fff" text-anchor="start" textLength="92.0" lengthAdjust="spacingAndGlyphs" >(c4)</text><text x="427.0" y="550.0" font-size="50.0" fill="#fff" text-anchor="start" textLength="31.0" lengthAdjust="spacingAndGlyphs" >1</text><text x="474.5" y="550.0" font-size="50.0" fill="#fff" text-anchor="start" textLength="90.0" lengthAdjust="spacingAndGlyphs" >mm</text><rect x="423.0" y="567.9" width="148.0" height="7" fill="#fff"/></svg>
<text x="618.0" y="51.5" font-size="52.0" fill="#000" text-anchor="start" textLength="22.8" lengthAdjust="spacingAndGlyphs" font-style="italic">z</text><rect x="656.9" y="32.8" width="34.0" height="2.4" fill="#000" rx="1"/><rect x="656.9" y="42.8" width="34.0" height="2.4" fill="#000" rx="1"/><text x="706.8" y="51.5" font-size="50.0" fill="#000" text-anchor="start" textLength="27.2" lengthAdjust="spacingAndGlyphs" >0</text><text x="1220.4" y="51.5" font-size="52.0" fill="#000" text-anchor="start" textLength="22.1" lengthAdjust="spacingAndGlyphs" font-style="italic">z</text><rect x="1258.7" y="32.8" width="34.6" height="2.4" fill="#000" rx="1"/><rect x="1258.7" y="42.8" width="34.6" height="2.4" fill="#000" rx="1"/><text x="1309.5" y="51.5" font-size="50.0" fill="#000" text-anchor="start" textLength="66.0" lengthAdjust="spacingAndGlyphs" >0.5</text><text x="1385.0" y="51.5" font-size="52.0" fill="#000" text-anchor="start" textLength="17.7" lengthAdjust="spacingAndGlyphs" font-style="italic">f</text><text x="1841.0" y="51.5" font-size="52.0" fill="#000" text-anchor="start" textLength="22.9" lengthAdjust="spacingAndGlyphs" font-style="italic">z</text><rect x="1880.0" y="32.8" width="34.6" height="2.4" fill="#000" rx="1"/><rect x="1880.0" y="42.8" width="34.6" height="2.4" fill="#000" rx="1"/><text x="1930.6" y="51.5" font-size="50.0" fill="#000" text-anchor="start" textLength="98.0" lengthAdjust="spacingAndGlyphs" >0.85</text><text x="2033.7" y="51.5" font-size="52.0" fill="#000" text-anchor="start" textLength="18.4" lengthAdjust="spacingAndGlyphs" font-style="italic">f</text><text x="2508.0" y="51.5" font-size="52.0" fill="#000" text-anchor="start" textLength="22.9" lengthAdjust="spacingAndGlyphs" font-style="italic">z</text><rect x="2546.0" y="32.8" width="34.6" height="2.4" fill="#000" rx="1"/><rect x="2546.0" y="42.8" width="34.6" height="2.4" fill="#000" rx="1"/><text x="2595.0" y="51.5" font-size="50.0" fill="#000" text-anchor="start" textLength="32.0" lengthAdjust="spacingAndGlyphs" >1</text><text x="2628.0" y="51.5" font-size="52.0" fill="#000" text-anchor="start" textLength="19.0" lengthAdjust="spacingAndGlyphs" font-style="italic">f</text><g transform="translate(364.2,378.4) rotate(-90)"><text x="-143.0" y="0.0" font-size="52.0" fill="#000" text-anchor="start" textLength="24.0" lengthAdjust="spacingAndGlyphs" font-style="italic">δ</text><text x="-118.0" y="8.5" font-size="35.0" fill="#000" text-anchor="start" textLength="16.0" lengthAdjust="spacingAndGlyphs" >0</text><rect x="-87.0" y="-18.7" width="35.0" height="2.4" fill="#000" rx="1"/><rect x="-87.0" y="-8.7" width="35.0" height="2.4" fill="#000" rx="1"/><text x="-33.0" y="0.0" font-size="50.0" fill="#000" text-anchor="start" textLength="66.0" lengthAdjust="spacingAndGlyphs" >1.5</text><text x="56.0" y="0.0" font-size="50.0" fill="#000" text-anchor="start" textLength="86.4" lengthAdjust="spacingAndGlyphs" >mm</text></g><g transform="translate(364.2,1008.4) rotate(-90)"><text x="-143.0" y="0.0" font-size="52.0" fill="#000" text-anchor="start" textLength="24.0" lengthAdjust="spacingAndGlyphs" font-style="italic">δ</text><text x="-118.0" y="8.5" font-size="35.0" fill="#000" text-anchor="start" textLength="16.0" lengthAdjust="spacingAndGlyphs" >0</text><rect x="-87.0" y="-18.7" width="35.0" height="2.4" fill="#000" rx="1"/><rect x="-87.0" y="-8.7" width="35.0" height="2.4" fill="#000" rx="1"/><text x="-33.0" y="0.0" font-size="50.0" fill="#000" text-anchor="start" textLength="66.0" lengthAdjust="spacingAndGlyphs" >1.0</text><text x="56.0" y="0.0" font-size="50.0" fill="#000" text-anchor="start" textLength="86.4" lengthAdjust="spacingAndGlyphs" >mm</text></g><g transform="translate(364.2,1638.4) rotate(-90)"><text x="-143.0" y="0.0" font-size="52.0" fill="#000" text-anchor="start" textLength="24.0" lengthAdjust="spacingAndGlyphs" font-style="italic">δ</text><text x="-118.0" y="8.5" font-size="35.0" fill="#000" text-anchor="start" textLength="16.0" lengthAdjust="spacingAndGlyphs" >0</text><rect x="-87.0" y="-18.7" width="35.0" height="2.4" fill="#000" rx="1"/><rect x="-87.0" y="-8.7" width="35.0" height="2.4" fill="#000" rx="1"/><text x="-33.0" y="0.0" font-size="50.0" fill="#000" text-anchor="start" textLength="66.0" lengthAdjust="spacingAndGlyphs" >0.5</text><text x="56.0" y="0.0" font-size="50.0" fill="#000" text-anchor="start" textLength="86.4" lengthAdjust="spacingAndGlyphs" >mm</text></g><linearGradient id="cb" x1="0" y1="1" x2="0" y2="0"><stop offset="0.000" stop-color="#00008f"/><stop offset="0.125" stop-color="#0000ff"/><stop offset="0.375" stop-color="#00ffff"/><stop offset="0.625" stop-color="#ffff00"/><stop offset="0.875" stop-color="#ff0000"/><stop offset="1.000" stop-color="#800000"/></linearGradient><rect x="2914.1" y="693.9" width="38.3" height="628.3" fill="url(#cb)" stroke="#000" stroke-width="3.2"/><rect x="2944.5" y="1256.6" width="10.1" height="2.6" fill="#000"/><rect x="2938.5" y="1194.0" width="16.1" height="2.6" fill="#000"/><rect x="2944.5" y="1131.3" width="10.1" height="2.6" fill="#000"/><rect x="2938.5" y="1068.7" width="16.1" height="2.6" fill="#000"/><rect x="2944.5" y="1006.0" width="10.1" height="2.6" fill="#000"/><rect x="2938.5" y="943.3" width="16.1" height="2.6" fill="#000"/><rect x="2944.5" y="880.7" width="10.1" height="2.6" fill="#000"/><rect x="2938.5" y="818.0" width="16.1" height="2.6" fill="#000"/><rect x="2944.5" y="755.4" width="10.1" height="2.6" fill="#000"/><text x="2975.0" y="1331.6" font-size="35.0" fill="#000" text-anchor="start" textLength="16.5" lengthAdjust="spacingAndGlyphs" >0</text><text x="2973.5" y="1206.3" font-size="35.0" fill="#000" text-anchor="start" textLength="49.5" lengthAdjust="spacingAndGlyphs" >0.2</text><text x="2973.5" y="1081.0" font-size="35.0" fill="#000" text-anchor="start" textLength="49.5" lengthAdjust="spacingAndGlyphs" >0.4</text><text x="2973.5" y="955.6" font-size="35.0" fill="#000" text-anchor="start" textLength="49.5" lengthAdjust="spacingAndGlyphs" >0.6</text><text x="2973.5" y="830.3" font-size="35.0" fill="#000" text-anchor="start" textLength="49.5" lengthAdjust="spacingAndGlyphs" >0.8</text><text x="2973.5" y="705.0" font-size="35.0" fill="#000" text-anchor="start" textLength="49.5" lengthAdjust="spacingAndGlyphs" >1.0</text><path d="M354.2 1896 V1972.8 H432" fill="none" stroke="#000" stroke-width="3"/><path d="M354.2 1875.2 L368.2 1909 L354.2 1901.2 L340.2 1909 Z" fill="#000"/><path d="M452.4 1972.8 L419 1958.8 L426.5 1972.8 L419 1986.8 Z" fill="#000"/><text x="331.5" y="1851.6" font-size="50.0" fill="#000" text-anchor="start" textLength="26.0" lengthAdjust="spacingAndGlyphs" font-style="italic">ρ</text><text x="360.5" y="1857.0" font-size="36.0" fill="#000" text-anchor="start" textLength="16.5" lengthAdjust="spacingAndGlyphs" font-style="italic">y</text><text x="472.5" y="1976.8" font-size="50.0" fill="#000" text-anchor="start" textLength="26.0" lengthAdjust="spacingAndGlyphs" font-style="italic">ρ</text><text x="500.5" y="1985.0" font-size="36.0" fill="#000" text-anchor="start" textLength="18.5" lengthAdjust="spacingAndGlyphs" font-style="italic">x</text>
</svg></body></html>
